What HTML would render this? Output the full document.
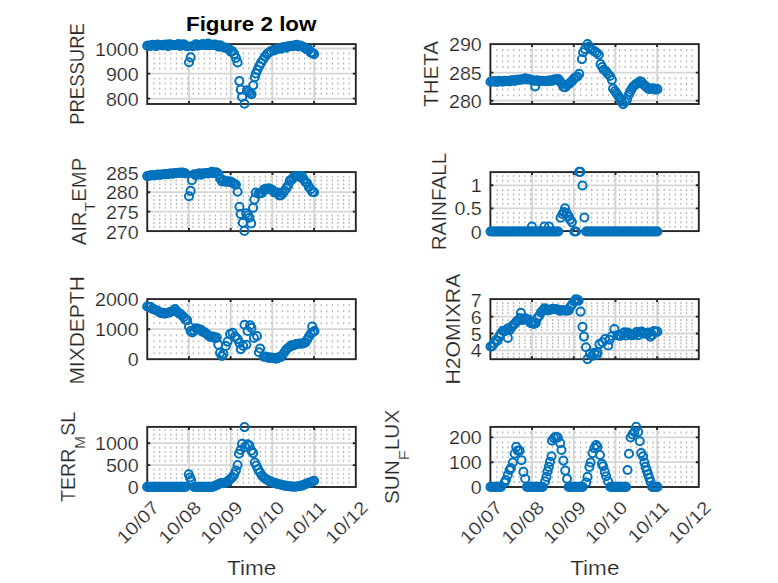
<!DOCTYPE html>
<html lang="en"><head><meta charset="utf-8"><title>Figure 2 low</title>
<style>html,body{margin:0;padding:0;background:#fff}body{width:778px;height:583px;overflow:hidden}svg{display:block}</style>
</head><body>
<svg width="778" height="583" viewBox="0 0 778 583" font-family='"Liberation Sans", sans-serif' fill="#262626" stroke="#fff" stroke-width="0.2" paint-order="fill stroke"><rect width="778" height="583" fill="#fff"/><g><rect x="147.25" y="44.1" width="208.55" height="59.90" fill="#fff"/><path d="M154.1 52.5v2M154.1 57.5v2M154.1 62.6v2M154.1 67.6v2M154.1 77.6v2M154.1 82.6v2M154.1 87.7v2M154.1 92.7v2M159.7 52.5v2M159.7 57.5v2M159.7 62.6v2M159.7 67.6v2M159.7 77.6v2M159.7 82.6v2M159.7 87.7v2M159.7 92.7v2M165.2 52.5v2M165.2 57.5v2M165.2 62.6v2M165.2 67.6v2M165.2 77.6v2M165.2 82.6v2M165.2 87.7v2M165.2 92.7v2M170.8 52.5v2M170.8 57.5v2M170.8 62.6v2M170.8 67.6v2M170.8 77.6v2M170.8 82.6v2M170.8 87.7v2M170.8 92.7v2M176.4 52.5v2M176.4 57.5v2M176.4 62.6v2M176.4 67.6v2M176.4 77.6v2M176.4 82.6v2M176.4 87.7v2M176.4 92.7v2M182.0 52.5v2M182.0 57.5v2M182.0 62.6v2M182.0 67.6v2M182.0 77.6v2M182.0 82.6v2M182.0 87.7v2M182.0 92.7v2M187.5 52.5v2M187.5 57.5v2M187.5 62.6v2M187.5 67.6v2M187.5 77.6v2M187.5 82.6v2M187.5 87.7v2M187.5 92.7v2M193.1 52.5v2M193.1 57.5v2M193.1 62.6v2M193.1 67.6v2M193.1 77.6v2M193.1 82.6v2M193.1 87.7v2M193.1 92.7v2M198.7 52.5v2M198.7 57.5v2M198.7 62.6v2M198.7 67.6v2M198.7 77.6v2M198.7 82.6v2M198.7 87.7v2M198.7 92.7v2M204.3 52.5v2M204.3 57.5v2M204.3 62.6v2M204.3 67.6v2M204.3 77.6v2M204.3 82.6v2M204.3 87.7v2M204.3 92.7v2M209.8 52.5v2M209.8 57.5v2M209.8 62.6v2M209.8 67.6v2M209.8 77.6v2M209.8 82.6v2M209.8 87.7v2M209.8 92.7v2M215.4 52.5v2M215.4 57.5v2M215.4 62.6v2M215.4 67.6v2M215.4 77.6v2M215.4 82.6v2M215.4 87.7v2M215.4 92.7v2M221.0 52.5v2M221.0 57.5v2M221.0 62.6v2M221.0 67.6v2M221.0 77.6v2M221.0 82.6v2M221.0 87.7v2M221.0 92.7v2M226.5 52.5v2M226.5 57.5v2M226.5 62.6v2M226.5 67.6v2M226.5 77.6v2M226.5 82.6v2M226.5 87.7v2M226.5 92.7v2M232.1 52.5v2M232.1 57.5v2M232.1 62.6v2M232.1 67.6v2M232.1 77.6v2M232.1 82.6v2M232.1 87.7v2M232.1 92.7v2M237.7 52.5v2M237.7 57.5v2M237.7 62.6v2M237.7 67.6v2M237.7 77.6v2M237.7 82.6v2M237.7 87.7v2M237.7 92.7v2M243.3 52.5v2M243.3 57.5v2M243.3 62.6v2M243.3 67.6v2M243.3 77.6v2M243.3 82.6v2M243.3 87.7v2M243.3 92.7v2M248.8 52.5v2M248.8 57.5v2M248.8 62.6v2M248.8 67.6v2M248.8 77.6v2M248.8 82.6v2M248.8 87.7v2M248.8 92.7v2M254.4 52.5v2M254.4 57.5v2M254.4 62.6v2M254.4 67.6v2M254.4 77.6v2M254.4 82.6v2M254.4 87.7v2M254.4 92.7v2M260.0 52.5v2M260.0 57.5v2M260.0 62.6v2M260.0 67.6v2M260.0 77.6v2M260.0 82.6v2M260.0 87.7v2M260.0 92.7v2M265.6 52.5v2M265.6 57.5v2M265.6 62.6v2M265.6 67.6v2M265.6 77.6v2M265.6 82.6v2M265.6 87.7v2M265.6 92.7v2M271.1 52.5v2M271.1 57.5v2M271.1 62.6v2M271.1 67.6v2M271.1 77.6v2M271.1 82.6v2M271.1 87.7v2M271.1 92.7v2M276.7 52.5v2M276.7 57.5v2M276.7 62.6v2M276.7 67.6v2M276.7 77.6v2M276.7 82.6v2M276.7 87.7v2M276.7 92.7v2M282.3 52.5v2M282.3 57.5v2M282.3 62.6v2M282.3 67.6v2M282.3 77.6v2M282.3 82.6v2M282.3 87.7v2M282.3 92.7v2M287.9 52.5v2M287.9 57.5v2M287.9 62.6v2M287.9 67.6v2M287.9 77.6v2M287.9 82.6v2M287.9 87.7v2M287.9 92.7v2M293.4 52.5v2M293.4 57.5v2M293.4 62.6v2M293.4 67.6v2M293.4 77.6v2M293.4 82.6v2M293.4 87.7v2M293.4 92.7v2M299.0 52.5v2M299.0 57.5v2M299.0 62.6v2M299.0 67.6v2M299.0 77.6v2M299.0 82.6v2M299.0 87.7v2M299.0 92.7v2M304.6 52.5v2M304.6 57.5v2M304.6 62.6v2M304.6 67.6v2M304.6 77.6v2M304.6 82.6v2M304.6 87.7v2M304.6 92.7v2M310.1 52.5v2M310.1 57.5v2M310.1 62.6v2M310.1 67.6v2M310.1 77.6v2M310.1 82.6v2M310.1 87.7v2M310.1 92.7v2M315.7 52.5v2M315.7 57.5v2M315.7 62.6v2M315.7 67.6v2M315.7 77.6v2M315.7 82.6v2M315.7 87.7v2M315.7 92.7v2M321.3 52.5v2M321.3 57.5v2M321.3 62.6v2M321.3 67.6v2M321.3 77.6v2M321.3 82.6v2M321.3 87.7v2M321.3 92.7v2M326.9 52.5v2M326.9 57.5v2M326.9 62.6v2M326.9 67.6v2M326.9 77.6v2M326.9 82.6v2M326.9 87.7v2M326.9 92.7v2M332.4 52.5v2M332.4 57.5v2M332.4 62.6v2M332.4 67.6v2M332.4 77.6v2M332.4 82.6v2M332.4 87.7v2M332.4 92.7v2M338.0 52.5v2M338.0 57.5v2M338.0 62.6v2M338.0 67.6v2M338.0 77.6v2M338.0 82.6v2M338.0 87.7v2M338.0 92.7v2M343.6 52.5v2M343.6 57.5v2M343.6 62.6v2M343.6 67.6v2M343.6 77.6v2M343.6 82.6v2M343.6 87.7v2M343.6 92.7v2M349.2 52.5v2M349.2 57.5v2M349.2 62.6v2M349.2 67.6v2M349.2 77.6v2M349.2 82.6v2M349.2 87.7v2M349.2 92.7v2" stroke="#b4b4b4" stroke-width="1.2" fill="none"/><path d="M188.96 44.1V104.0M230.67 44.1V104.0M272.38 44.1V104.0M314.09 44.1V104.0M147.25 48.50H355.8M147.25 73.60H355.8M147.25 98.60H355.8" stroke="#d5d5d5" stroke-width="1.8" fill="none"/><rect x="147.25" y="44.1" width="208.55" height="59.90" fill="none" stroke="#262626" stroke-width="1.9"/><path d="M188.96 104.0v-3.0M188.96 44.1v3.0M230.67 104.0v-3.0M230.67 44.1v3.0M272.38 104.0v-3.0M272.38 44.1v3.0M314.09 104.0v-3.0M314.09 44.1v3.0M147.25 48.50h3.0M355.8 48.50h-3.0M147.25 73.60h3.0M355.8 73.60h-3.0M147.25 98.60h3.0M355.8 98.60h-3.0" stroke="#262626" stroke-width="1.9" fill="none"/><g fill="none" stroke="#0072bd" stroke-width="2.0"><circle cx="147.2" cy="45.8" r="4.05"/><circle cx="149.0" cy="45.5" r="4.05"/><circle cx="150.7" cy="46.0" r="4.05"/><circle cx="152.5" cy="44.8" r="4.05"/><circle cx="154.2" cy="45.3" r="4.05"/><circle cx="155.9" cy="46.3" r="4.05"/><circle cx="157.7" cy="44.5" r="4.05"/><circle cx="159.4" cy="45.3" r="4.05"/><circle cx="161.2" cy="45.2" r="4.05"/><circle cx="162.9" cy="45.5" r="4.05"/><circle cx="164.6" cy="44.8" r="4.05"/><circle cx="166.4" cy="44.5" r="4.05"/><circle cx="168.1" cy="46.1" r="4.05"/><circle cx="169.8" cy="44.3" r="4.05"/><circle cx="171.6" cy="44.7" r="4.05"/><circle cx="173.3" cy="45.1" r="4.05"/><circle cx="175.1" cy="45.0" r="4.05"/><circle cx="176.8" cy="44.8" r="4.05"/><circle cx="178.5" cy="44.1" r="4.05"/><circle cx="180.3" cy="45.9" r="4.05"/><circle cx="182.0" cy="44.7" r="4.05"/><circle cx="183.8" cy="44.4" r="4.05"/><circle cx="185.5" cy="45.7" r="4.05"/><circle cx="187.2" cy="46.2" r="4.05"/><circle cx="192.4" cy="46.3" r="4.05"/><circle cx="194.2" cy="45.6" r="4.05"/><circle cx="195.9" cy="44.4" r="4.05"/><circle cx="197.7" cy="45.6" r="4.05"/><circle cx="199.4" cy="44.8" r="4.05"/><circle cx="201.1" cy="45.0" r="4.05"/><circle cx="202.9" cy="44.1" r="4.05"/><circle cx="204.6" cy="45.1" r="4.05"/><circle cx="206.4" cy="45.3" r="4.05"/><circle cx="208.1" cy="43.6" r="4.05"/><circle cx="209.8" cy="45.1" r="4.05"/><circle cx="211.6" cy="44.7" r="4.05"/><circle cx="213.3" cy="44.9" r="4.05"/><circle cx="215.0" cy="44.6" r="4.05"/><circle cx="216.8" cy="45.3" r="4.05"/><circle cx="218.5" cy="46.6" r="4.05"/><circle cx="220.3" cy="45.2" r="4.05"/><circle cx="222.0" cy="46.8" r="4.05"/><circle cx="223.7" cy="47.5" r="4.05"/><circle cx="225.5" cy="47.7" r="4.05"/><circle cx="227.2" cy="48.3" r="4.05"/><circle cx="229.0" cy="49.1" r="4.05"/><circle cx="230.7" cy="51.6" r="4.05"/><circle cx="232.4" cy="51.3" r="4.05"/><circle cx="234.2" cy="53.9" r="4.05"/><circle cx="235.9" cy="57.9" r="4.05"/><circle cx="237.6" cy="62.4" r="4.05"/><circle cx="189.0" cy="62.3" r="4.05"/><circle cx="190.7" cy="57.4" r="4.05"/><circle cx="239.3" cy="81.1" r="4.05"/><circle cx="240.7" cy="89.6" r="4.05"/><circle cx="242.1" cy="97.0" r="4.05"/><circle cx="244.5" cy="103.8" r="4.05"/><circle cx="246.9" cy="90.2" r="4.05"/><circle cx="248.6" cy="91.6" r="4.05"/><circle cx="250.1" cy="93.2" r="4.05"/><circle cx="251.6" cy="94.3" r="4.05"/><circle cx="253.3" cy="85.2" r="4.05"/><circle cx="254.8" cy="77.2" r="4.05"/><circle cx="255.9" cy="73.5" r="4.05"/><circle cx="257.5" cy="69.8" r="4.05"/><circle cx="259.4" cy="66.0" r="4.05"/><circle cx="261.0" cy="62.9" r="4.05"/><circle cx="263.0" cy="59.8" r="4.05"/><circle cx="265.0" cy="56.6" r="4.05"/><circle cx="267.0" cy="54.1" r="4.05"/><circle cx="269.0" cy="52.5" r="4.05"/><circle cx="271.0" cy="51.0" r="4.05"/><circle cx="274.1" cy="50.4" r="4.05"/><circle cx="275.9" cy="49.2" r="4.05"/><circle cx="277.6" cy="48.9" r="4.05"/><circle cx="279.4" cy="48.2" r="4.05"/><circle cx="281.1" cy="48.8" r="4.05"/><circle cx="282.8" cy="47.2" r="4.05"/><circle cx="284.6" cy="47.1" r="4.05"/><circle cx="286.3" cy="47.7" r="4.05"/><circle cx="288.1" cy="46.3" r="4.05"/><circle cx="289.8" cy="46.2" r="4.05"/><circle cx="291.5" cy="45.7" r="4.05"/><circle cx="293.3" cy="46.3" r="4.05"/><circle cx="295.0" cy="45.2" r="4.05"/><circle cx="296.7" cy="44.9" r="4.05"/><circle cx="298.5" cy="46.5" r="4.05"/><circle cx="300.2" cy="45.6" r="4.05"/><circle cx="302.0" cy="46.5" r="4.05"/><circle cx="303.7" cy="47.1" r="4.05"/><circle cx="305.4" cy="48.4" r="4.05"/><circle cx="307.2" cy="49.4" r="4.05"/><circle cx="308.9" cy="49.6" r="4.05"/><circle cx="310.7" cy="52.4" r="4.05"/><circle cx="312.4" cy="53.0" r="4.05"/><circle cx="314.1" cy="54.1" r="4.05"/></g><text transform="translate(138.7,55.5) scale(1.08,1)" font-size="18.2" text-anchor="end">1000</text><text transform="translate(138.7,80.6) scale(1.08,1)" font-size="18.2" text-anchor="end">900</text><text transform="translate(138.7,105.6) scale(1.08,1)" font-size="18.2" text-anchor="end">800</text><text transform="translate(83.5,74.0) rotate(-90) scale(0.947,1)" font-size="19.5" text-anchor="middle">PRESSURE</text></g><g><rect x="490.4" y="44.1" width="208.40" height="59.90" fill="#fff"/><path d="M497.0 49.0v2M497.0 54.7v2M497.0 60.3v2M497.0 66.0v2M497.0 77.2v2M497.0 82.9v2M497.0 88.5v2M497.0 94.2v2M502.6 49.0v2M502.6 54.7v2M502.6 60.3v2M502.6 66.0v2M502.6 77.2v2M502.6 82.9v2M502.6 88.5v2M502.6 94.2v2M508.1 49.0v2M508.1 54.7v2M508.1 60.3v2M508.1 66.0v2M508.1 77.2v2M508.1 82.9v2M508.1 88.5v2M508.1 94.2v2M513.7 49.0v2M513.7 54.7v2M513.7 60.3v2M513.7 66.0v2M513.7 77.2v2M513.7 82.9v2M513.7 88.5v2M513.7 94.2v2M519.3 49.0v2M519.3 54.7v2M519.3 60.3v2M519.3 66.0v2M519.3 77.2v2M519.3 82.9v2M519.3 88.5v2M519.3 94.2v2M524.9 49.0v2M524.9 54.7v2M524.9 60.3v2M524.9 66.0v2M524.9 77.2v2M524.9 82.9v2M524.9 88.5v2M524.9 94.2v2M530.4 49.0v2M530.4 54.7v2M530.4 60.3v2M530.4 66.0v2M530.4 77.2v2M530.4 82.9v2M530.4 88.5v2M530.4 94.2v2M536.0 49.0v2M536.0 54.7v2M536.0 60.3v2M536.0 66.0v2M536.0 77.2v2M536.0 82.9v2M536.0 88.5v2M536.0 94.2v2M541.6 49.0v2M541.6 54.7v2M541.6 60.3v2M541.6 66.0v2M541.6 77.2v2M541.6 82.9v2M541.6 88.5v2M541.6 94.2v2M547.2 49.0v2M547.2 54.7v2M547.2 60.3v2M547.2 66.0v2M547.2 77.2v2M547.2 82.9v2M547.2 88.5v2M547.2 94.2v2M552.7 49.0v2M552.7 54.7v2M552.7 60.3v2M552.7 66.0v2M552.7 77.2v2M552.7 82.9v2M552.7 88.5v2M552.7 94.2v2M558.3 49.0v2M558.3 54.7v2M558.3 60.3v2M558.3 66.0v2M558.3 77.2v2M558.3 82.9v2M558.3 88.5v2M558.3 94.2v2M563.9 49.0v2M563.9 54.7v2M563.9 60.3v2M563.9 66.0v2M563.9 77.2v2M563.9 82.9v2M563.9 88.5v2M563.9 94.2v2M569.4 49.0v2M569.4 54.7v2M569.4 60.3v2M569.4 66.0v2M569.4 77.2v2M569.4 82.9v2M569.4 88.5v2M569.4 94.2v2M575.0 49.0v2M575.0 54.7v2M575.0 60.3v2M575.0 66.0v2M575.0 77.2v2M575.0 82.9v2M575.0 88.5v2M575.0 94.2v2M580.6 49.0v2M580.6 54.7v2M580.6 60.3v2M580.6 66.0v2M580.6 77.2v2M580.6 82.9v2M580.6 88.5v2M580.6 94.2v2M586.2 49.0v2M586.2 54.7v2M586.2 60.3v2M586.2 66.0v2M586.2 77.2v2M586.2 82.9v2M586.2 88.5v2M586.2 94.2v2M591.7 49.0v2M591.7 54.7v2M591.7 60.3v2M591.7 66.0v2M591.7 77.2v2M591.7 82.9v2M591.7 88.5v2M591.7 94.2v2M597.3 49.0v2M597.3 54.7v2M597.3 60.3v2M597.3 66.0v2M597.3 77.2v2M597.3 82.9v2M597.3 88.5v2M597.3 94.2v2M602.9 49.0v2M602.9 54.7v2M602.9 60.3v2M602.9 66.0v2M602.9 77.2v2M602.9 82.9v2M602.9 88.5v2M602.9 94.2v2M608.5 49.0v2M608.5 54.7v2M608.5 60.3v2M608.5 66.0v2M608.5 77.2v2M608.5 82.9v2M608.5 88.5v2M608.5 94.2v2M614.0 49.0v2M614.0 54.7v2M614.0 60.3v2M614.0 66.0v2M614.0 77.2v2M614.0 82.9v2M614.0 88.5v2M614.0 94.2v2M619.6 49.0v2M619.6 54.7v2M619.6 60.3v2M619.6 66.0v2M619.6 77.2v2M619.6 82.9v2M619.6 88.5v2M619.6 94.2v2M625.2 49.0v2M625.2 54.7v2M625.2 60.3v2M625.2 66.0v2M625.2 77.2v2M625.2 82.9v2M625.2 88.5v2M625.2 94.2v2M630.8 49.0v2M630.8 54.7v2M630.8 60.3v2M630.8 66.0v2M630.8 77.2v2M630.8 82.9v2M630.8 88.5v2M630.8 94.2v2M636.3 49.0v2M636.3 54.7v2M636.3 60.3v2M636.3 66.0v2M636.3 77.2v2M636.3 82.9v2M636.3 88.5v2M636.3 94.2v2M641.9 49.0v2M641.9 54.7v2M641.9 60.3v2M641.9 66.0v2M641.9 77.2v2M641.9 82.9v2M641.9 88.5v2M641.9 94.2v2M647.5 49.0v2M647.5 54.7v2M647.5 60.3v2M647.5 66.0v2M647.5 77.2v2M647.5 82.9v2M647.5 88.5v2M647.5 94.2v2M653.0 49.0v2M653.0 54.7v2M653.0 60.3v2M653.0 66.0v2M653.0 77.2v2M653.0 82.9v2M653.0 88.5v2M653.0 94.2v2M658.6 49.0v2M658.6 54.7v2M658.6 60.3v2M658.6 66.0v2M658.6 77.2v2M658.6 82.9v2M658.6 88.5v2M658.6 94.2v2M664.2 49.0v2M664.2 54.7v2M664.2 60.3v2M664.2 66.0v2M664.2 77.2v2M664.2 82.9v2M664.2 88.5v2M664.2 94.2v2M669.8 49.0v2M669.8 54.7v2M669.8 60.3v2M669.8 66.0v2M669.8 77.2v2M669.8 82.9v2M669.8 88.5v2M669.8 94.2v2M675.3 49.0v2M675.3 54.7v2M675.3 60.3v2M675.3 66.0v2M675.3 77.2v2M675.3 82.9v2M675.3 88.5v2M675.3 94.2v2M680.9 49.0v2M680.9 54.7v2M680.9 60.3v2M680.9 66.0v2M680.9 77.2v2M680.9 82.9v2M680.9 88.5v2M680.9 94.2v2M686.5 49.0v2M686.5 54.7v2M686.5 60.3v2M686.5 66.0v2M686.5 77.2v2M686.5 82.9v2M686.5 88.5v2M686.5 94.2v2M692.1 49.0v2M692.1 54.7v2M692.1 60.3v2M692.1 66.0v2M692.1 77.2v2M692.1 82.9v2M692.1 88.5v2M692.1 94.2v2" stroke="#b4b4b4" stroke-width="1.2" fill="none"/><path d="M532.08 44.1V104.0M573.76 44.1V104.0M615.44 44.1V104.0M657.12 44.1V104.0M490.4 72.60H698.8M490.4 100.70H698.8" stroke="#d5d5d5" stroke-width="1.8" fill="none"/><rect x="490.4" y="44.1" width="208.40" height="59.90" fill="none" stroke="#262626" stroke-width="1.9"/><path d="M532.08 104.0v-3.0M532.08 44.1v3.0M573.76 104.0v-3.0M573.76 44.1v3.0M615.44 104.0v-3.0M615.44 44.1v3.0M657.12 104.0v-3.0M657.12 44.1v3.0M490.4 72.60h3.0M698.8 72.60h-3.0M490.4 100.70h3.0M698.8 100.70h-3.0" stroke="#262626" stroke-width="1.9" fill="none"/><g fill="none" stroke="#0072bd" stroke-width="2.0"><circle cx="490.5" cy="81.8" r="4.05"/><circle cx="492.2" cy="81.4" r="4.05"/><circle cx="494.0" cy="81.4" r="4.05"/><circle cx="495.7" cy="81.4" r="4.05"/><circle cx="497.5" cy="81.9" r="4.05"/><circle cx="499.2" cy="80.7" r="4.05"/><circle cx="500.9" cy="81.3" r="4.05"/><circle cx="502.7" cy="81.6" r="4.05"/><circle cx="504.4" cy="80.9" r="4.05"/><circle cx="506.1" cy="81.1" r="4.05"/><circle cx="507.9" cy="80.9" r="4.05"/><circle cx="509.6" cy="81.5" r="4.05"/><circle cx="511.4" cy="80.3" r="4.05"/><circle cx="513.1" cy="80.3" r="4.05"/><circle cx="514.8" cy="80.9" r="4.05"/><circle cx="516.6" cy="79.9" r="4.05"/><circle cx="518.3" cy="79.9" r="4.05"/><circle cx="520.1" cy="79.5" r="4.05"/><circle cx="521.8" cy="79.8" r="4.05"/><circle cx="523.5" cy="79.0" r="4.05"/><circle cx="525.3" cy="78.3" r="4.05"/><circle cx="527.0" cy="79.4" r="4.05"/><circle cx="528.7" cy="79.1" r="4.05"/><circle cx="530.5" cy="79.7" r="4.05"/><circle cx="532.2" cy="80.2" r="4.05"/><circle cx="534.0" cy="80.8" r="4.05"/><circle cx="535.7" cy="80.8" r="4.05"/><circle cx="537.4" cy="80.2" r="4.05"/><circle cx="539.2" cy="81.5" r="4.05"/><circle cx="540.9" cy="81.0" r="4.05"/><circle cx="542.6" cy="80.7" r="4.05"/><circle cx="544.4" cy="81.0" r="4.05"/><circle cx="546.1" cy="81.1" r="4.05"/><circle cx="547.9" cy="81.3" r="4.05"/><circle cx="549.6" cy="80.3" r="4.05"/><circle cx="551.3" cy="81.0" r="4.05"/><circle cx="553.1" cy="80.5" r="4.05"/><circle cx="554.8" cy="79.4" r="4.05"/><circle cx="556.6" cy="79.6" r="4.05"/><circle cx="558.3" cy="79.1" r="4.05"/><circle cx="560.0" cy="81.4" r="4.05"/><circle cx="561.8" cy="83.8" r="4.05"/><circle cx="563.5" cy="86.9" r="4.05"/><circle cx="565.2" cy="87.1" r="4.05"/><circle cx="567.0" cy="85.0" r="4.05"/><circle cx="568.7" cy="84.1" r="4.05"/><circle cx="570.5" cy="82.4" r="4.05"/><circle cx="572.2" cy="81.0" r="4.05"/><circle cx="573.9" cy="78.6" r="4.05"/><circle cx="575.7" cy="77.2" r="4.05"/><circle cx="577.4" cy="76.5" r="4.05"/><circle cx="579.2" cy="73.9" r="4.05"/><circle cx="535.2" cy="86.5" r="4.05"/><circle cx="581.9" cy="59.1" r="4.05"/><circle cx="583.1" cy="52.2" r="4.05"/><circle cx="585.0" cy="49.1" r="4.05"/><circle cx="587.5" cy="44.1" r="4.05"/><circle cx="589.0" cy="46.5" r="4.05"/><circle cx="590.6" cy="49.1" r="4.05"/><circle cx="592.8" cy="50.2" r="4.05"/><circle cx="595.0" cy="51.6" r="4.05"/><circle cx="596.9" cy="53.0" r="4.05"/><circle cx="598.8" cy="54.8" r="4.05"/><circle cx="600.6" cy="64.1" r="4.05"/><circle cx="602.2" cy="67.0" r="4.05"/><circle cx="603.8" cy="69.8" r="4.05"/><circle cx="606.2" cy="71.6" r="4.05"/><circle cx="608.0" cy="74.0" r="4.05"/><circle cx="610.0" cy="76.0" r="4.05"/><circle cx="611.9" cy="79.8" r="4.05"/><circle cx="613.1" cy="88.5" r="4.05"/><circle cx="615.0" cy="91.0" r="4.05"/><circle cx="616.3" cy="93.0" r="4.05"/><circle cx="617.5" cy="94.8" r="4.05"/><circle cx="619.0" cy="96.7" r="4.05"/><circle cx="620.0" cy="98.5" r="4.05"/><circle cx="621.5" cy="101.5" r="4.05"/><circle cx="623.1" cy="104.1" r="4.05"/><circle cx="625.0" cy="102.0" r="4.05"/><circle cx="626.9" cy="99.8" r="4.05"/><circle cx="628.8" cy="94.8" r="4.05"/><circle cx="630.0" cy="92.0" r="4.05"/><circle cx="631.2" cy="89.8" r="4.05"/><circle cx="633.0" cy="86.8" r="4.05"/><circle cx="634.8" cy="85.1" r="4.05"/><circle cx="636.5" cy="83.8" r="4.05"/><circle cx="638.3" cy="82.9" r="4.05"/><circle cx="640.0" cy="81.3" r="4.05"/><circle cx="641.7" cy="82.1" r="4.05"/><circle cx="643.5" cy="84.5" r="4.05"/><circle cx="645.2" cy="85.8" r="4.05"/><circle cx="647.0" cy="87.6" r="4.05"/><circle cx="648.7" cy="89.0" r="4.05"/><circle cx="650.4" cy="89.0" r="4.05"/><circle cx="652.2" cy="88.4" r="4.05"/><circle cx="653.9" cy="88.5" r="4.05"/><circle cx="655.6" cy="89.6" r="4.05"/><circle cx="657.4" cy="89.1" r="4.05"/></g><text transform="translate(481.8,51.4) scale(1.08,1)" font-size="18.2" text-anchor="end">290</text><text transform="translate(481.8,79.6) scale(1.08,1)" font-size="18.2" text-anchor="end">285</text><text transform="translate(481.8,107.7) scale(1.08,1)" font-size="18.2" text-anchor="end">280</text><text transform="translate(437.8,74.0) rotate(-90) scale(1.055,1)" font-size="19.5" text-anchor="middle">THETA</text></g><g><rect x="147.25" y="172.1" width="208.55" height="59.00" fill="#fff"/><path d="M154.1 175.8v2M154.1 179.6v2M154.1 183.5v2M154.1 187.3v2M154.1 195.1v2M154.1 198.9v2M154.1 202.8v2M154.1 206.6v2M154.1 214.4v2M154.1 218.2v2M154.1 222.1v2M154.1 225.9v2M159.7 175.8v2M159.7 179.6v2M159.7 183.5v2M159.7 187.3v2M159.7 195.1v2M159.7 198.9v2M159.7 202.8v2M159.7 206.6v2M159.7 214.4v2M159.7 218.2v2M159.7 222.1v2M159.7 225.9v2M165.2 175.8v2M165.2 179.6v2M165.2 183.5v2M165.2 187.3v2M165.2 195.1v2M165.2 198.9v2M165.2 202.8v2M165.2 206.6v2M165.2 214.4v2M165.2 218.2v2M165.2 222.1v2M165.2 225.9v2M170.8 175.8v2M170.8 179.6v2M170.8 183.5v2M170.8 187.3v2M170.8 195.1v2M170.8 198.9v2M170.8 202.8v2M170.8 206.6v2M170.8 214.4v2M170.8 218.2v2M170.8 222.1v2M170.8 225.9v2M176.4 175.8v2M176.4 179.6v2M176.4 183.5v2M176.4 187.3v2M176.4 195.1v2M176.4 198.9v2M176.4 202.8v2M176.4 206.6v2M176.4 214.4v2M176.4 218.2v2M176.4 222.1v2M176.4 225.9v2M182.0 175.8v2M182.0 179.6v2M182.0 183.5v2M182.0 187.3v2M182.0 195.1v2M182.0 198.9v2M182.0 202.8v2M182.0 206.6v2M182.0 214.4v2M182.0 218.2v2M182.0 222.1v2M182.0 225.9v2M187.5 175.8v2M187.5 179.6v2M187.5 183.5v2M187.5 187.3v2M187.5 195.1v2M187.5 198.9v2M187.5 202.8v2M187.5 206.6v2M187.5 214.4v2M187.5 218.2v2M187.5 222.1v2M187.5 225.9v2M193.1 175.8v2M193.1 179.6v2M193.1 183.5v2M193.1 187.3v2M193.1 195.1v2M193.1 198.9v2M193.1 202.8v2M193.1 206.6v2M193.1 214.4v2M193.1 218.2v2M193.1 222.1v2M193.1 225.9v2M198.7 175.8v2M198.7 179.6v2M198.7 183.5v2M198.7 187.3v2M198.7 195.1v2M198.7 198.9v2M198.7 202.8v2M198.7 206.6v2M198.7 214.4v2M198.7 218.2v2M198.7 222.1v2M198.7 225.9v2M204.3 175.8v2M204.3 179.6v2M204.3 183.5v2M204.3 187.3v2M204.3 195.1v2M204.3 198.9v2M204.3 202.8v2M204.3 206.6v2M204.3 214.4v2M204.3 218.2v2M204.3 222.1v2M204.3 225.9v2M209.8 175.8v2M209.8 179.6v2M209.8 183.5v2M209.8 187.3v2M209.8 195.1v2M209.8 198.9v2M209.8 202.8v2M209.8 206.6v2M209.8 214.4v2M209.8 218.2v2M209.8 222.1v2M209.8 225.9v2M215.4 175.8v2M215.4 179.6v2M215.4 183.5v2M215.4 187.3v2M215.4 195.1v2M215.4 198.9v2M215.4 202.8v2M215.4 206.6v2M215.4 214.4v2M215.4 218.2v2M215.4 222.1v2M215.4 225.9v2M221.0 175.8v2M221.0 179.6v2M221.0 183.5v2M221.0 187.3v2M221.0 195.1v2M221.0 198.9v2M221.0 202.8v2M221.0 206.6v2M221.0 214.4v2M221.0 218.2v2M221.0 222.1v2M221.0 225.9v2M226.5 175.8v2M226.5 179.6v2M226.5 183.5v2M226.5 187.3v2M226.5 195.1v2M226.5 198.9v2M226.5 202.8v2M226.5 206.6v2M226.5 214.4v2M226.5 218.2v2M226.5 222.1v2M226.5 225.9v2M232.1 175.8v2M232.1 179.6v2M232.1 183.5v2M232.1 187.3v2M232.1 195.1v2M232.1 198.9v2M232.1 202.8v2M232.1 206.6v2M232.1 214.4v2M232.1 218.2v2M232.1 222.1v2M232.1 225.9v2M237.7 175.8v2M237.7 179.6v2M237.7 183.5v2M237.7 187.3v2M237.7 195.1v2M237.7 198.9v2M237.7 202.8v2M237.7 206.6v2M237.7 214.4v2M237.7 218.2v2M237.7 222.1v2M237.7 225.9v2M243.3 175.8v2M243.3 179.6v2M243.3 183.5v2M243.3 187.3v2M243.3 195.1v2M243.3 198.9v2M243.3 202.8v2M243.3 206.6v2M243.3 214.4v2M243.3 218.2v2M243.3 222.1v2M243.3 225.9v2M248.8 175.8v2M248.8 179.6v2M248.8 183.5v2M248.8 187.3v2M248.8 195.1v2M248.8 198.9v2M248.8 202.8v2M248.8 206.6v2M248.8 214.4v2M248.8 218.2v2M248.8 222.1v2M248.8 225.9v2M254.4 175.8v2M254.4 179.6v2M254.4 183.5v2M254.4 187.3v2M254.4 195.1v2M254.4 198.9v2M254.4 202.8v2M254.4 206.6v2M254.4 214.4v2M254.4 218.2v2M254.4 222.1v2M254.4 225.9v2M260.0 175.8v2M260.0 179.6v2M260.0 183.5v2M260.0 187.3v2M260.0 195.1v2M260.0 198.9v2M260.0 202.8v2M260.0 206.6v2M260.0 214.4v2M260.0 218.2v2M260.0 222.1v2M260.0 225.9v2M265.6 175.8v2M265.6 179.6v2M265.6 183.5v2M265.6 187.3v2M265.6 195.1v2M265.6 198.9v2M265.6 202.8v2M265.6 206.6v2M265.6 214.4v2M265.6 218.2v2M265.6 222.1v2M265.6 225.9v2M271.1 175.8v2M271.1 179.6v2M271.1 183.5v2M271.1 187.3v2M271.1 195.1v2M271.1 198.9v2M271.1 202.8v2M271.1 206.6v2M271.1 214.4v2M271.1 218.2v2M271.1 222.1v2M271.1 225.9v2M276.7 175.8v2M276.7 179.6v2M276.7 183.5v2M276.7 187.3v2M276.7 195.1v2M276.7 198.9v2M276.7 202.8v2M276.7 206.6v2M276.7 214.4v2M276.7 218.2v2M276.7 222.1v2M276.7 225.9v2M282.3 175.8v2M282.3 179.6v2M282.3 183.5v2M282.3 187.3v2M282.3 195.1v2M282.3 198.9v2M282.3 202.8v2M282.3 206.6v2M282.3 214.4v2M282.3 218.2v2M282.3 222.1v2M282.3 225.9v2M287.9 175.8v2M287.9 179.6v2M287.9 183.5v2M287.9 187.3v2M287.9 195.1v2M287.9 198.9v2M287.9 202.8v2M287.9 206.6v2M287.9 214.4v2M287.9 218.2v2M287.9 222.1v2M287.9 225.9v2M293.4 175.8v2M293.4 179.6v2M293.4 183.5v2M293.4 187.3v2M293.4 195.1v2M293.4 198.9v2M293.4 202.8v2M293.4 206.6v2M293.4 214.4v2M293.4 218.2v2M293.4 222.1v2M293.4 225.9v2M299.0 175.8v2M299.0 179.6v2M299.0 183.5v2M299.0 187.3v2M299.0 195.1v2M299.0 198.9v2M299.0 202.8v2M299.0 206.6v2M299.0 214.4v2M299.0 218.2v2M299.0 222.1v2M299.0 225.9v2M304.6 175.8v2M304.6 179.6v2M304.6 183.5v2M304.6 187.3v2M304.6 195.1v2M304.6 198.9v2M304.6 202.8v2M304.6 206.6v2M304.6 214.4v2M304.6 218.2v2M304.6 222.1v2M304.6 225.9v2M310.1 175.8v2M310.1 179.6v2M310.1 183.5v2M310.1 187.3v2M310.1 195.1v2M310.1 198.9v2M310.1 202.8v2M310.1 206.6v2M310.1 214.4v2M310.1 218.2v2M310.1 222.1v2M310.1 225.9v2M315.7 175.8v2M315.7 179.6v2M315.7 183.5v2M315.7 187.3v2M315.7 195.1v2M315.7 198.9v2M315.7 202.8v2M315.7 206.6v2M315.7 214.4v2M315.7 218.2v2M315.7 222.1v2M315.7 225.9v2M321.3 175.8v2M321.3 179.6v2M321.3 183.5v2M321.3 187.3v2M321.3 195.1v2M321.3 198.9v2M321.3 202.8v2M321.3 206.6v2M321.3 214.4v2M321.3 218.2v2M321.3 222.1v2M321.3 225.9v2M326.9 175.8v2M326.9 179.6v2M326.9 183.5v2M326.9 187.3v2M326.9 195.1v2M326.9 198.9v2M326.9 202.8v2M326.9 206.6v2M326.9 214.4v2M326.9 218.2v2M326.9 222.1v2M326.9 225.9v2M332.4 175.8v2M332.4 179.6v2M332.4 183.5v2M332.4 187.3v2M332.4 195.1v2M332.4 198.9v2M332.4 202.8v2M332.4 206.6v2M332.4 214.4v2M332.4 218.2v2M332.4 222.1v2M332.4 225.9v2M338.0 175.8v2M338.0 179.6v2M338.0 183.5v2M338.0 187.3v2M338.0 195.1v2M338.0 198.9v2M338.0 202.8v2M338.0 206.6v2M338.0 214.4v2M338.0 218.2v2M338.0 222.1v2M338.0 225.9v2M343.6 175.8v2M343.6 179.6v2M343.6 183.5v2M343.6 187.3v2M343.6 195.1v2M343.6 198.9v2M343.6 202.8v2M343.6 206.6v2M343.6 214.4v2M343.6 218.2v2M343.6 222.1v2M343.6 225.9v2M349.2 175.8v2M349.2 179.6v2M349.2 183.5v2M349.2 187.3v2M349.2 195.1v2M349.2 198.9v2M349.2 202.8v2M349.2 206.6v2M349.2 214.4v2M349.2 218.2v2M349.2 222.1v2M349.2 225.9v2" stroke="#b4b4b4" stroke-width="1.2" fill="none"/><path d="M188.96 172.1V231.1M230.67 172.1V231.1M272.38 172.1V231.1M314.09 172.1V231.1M147.25 192.20H355.8M147.25 211.60H355.8" stroke="#d5d5d5" stroke-width="1.8" fill="none"/><rect x="147.25" y="172.1" width="208.55" height="59.00" fill="none" stroke="#262626" stroke-width="1.9"/><path d="M188.96 231.1v-3.0M188.96 172.1v3.0M230.67 231.1v-3.0M230.67 172.1v3.0M272.38 231.1v-3.0M272.38 172.1v3.0M314.09 231.1v-3.0M314.09 172.1v3.0M147.25 192.20h3.0M355.8 192.20h-3.0M147.25 211.60h3.0M355.8 211.60h-3.0" stroke="#262626" stroke-width="1.9" fill="none"/><g fill="none" stroke="#0072bd" stroke-width="2.0"><circle cx="147.2" cy="176.1" r="4.05"/><circle cx="149.0" cy="175.8" r="4.05"/><circle cx="150.7" cy="175.4" r="4.05"/><circle cx="152.5" cy="175.3" r="4.05"/><circle cx="154.2" cy="175.2" r="4.05"/><circle cx="155.9" cy="175.3" r="4.05"/><circle cx="157.7" cy="174.5" r="4.05"/><circle cx="159.4" cy="174.8" r="4.05"/><circle cx="161.2" cy="174.8" r="4.05"/><circle cx="162.9" cy="174.2" r="4.05"/><circle cx="164.6" cy="174.3" r="4.05"/><circle cx="166.4" cy="174.1" r="4.05"/><circle cx="168.1" cy="174.2" r="4.05"/><circle cx="169.8" cy="173.5" r="4.05"/><circle cx="171.6" cy="173.5" r="4.05"/><circle cx="173.3" cy="173.7" r="4.05"/><circle cx="175.1" cy="173.0" r="4.05"/><circle cx="176.8" cy="173.1" r="4.05"/><circle cx="178.5" cy="172.8" r="4.05"/><circle cx="180.3" cy="172.9" r="4.05"/><circle cx="182.0" cy="172.6" r="4.05"/><circle cx="183.8" cy="172.7" r="4.05"/><circle cx="185.5" cy="173.5" r="4.05"/><circle cx="189.0" cy="196.2" r="4.05"/><circle cx="190.6" cy="190.9" r="4.05"/><circle cx="191.9" cy="180.2" r="4.05"/><circle cx="194.2" cy="174.3" r="4.05"/><circle cx="195.9" cy="175.1" r="4.05"/><circle cx="197.7" cy="174.1" r="4.05"/><circle cx="199.4" cy="173.4" r="4.05"/><circle cx="201.1" cy="174.6" r="4.05"/><circle cx="202.9" cy="173.5" r="4.05"/><circle cx="204.6" cy="173.4" r="4.05"/><circle cx="206.4" cy="173.0" r="4.05"/><circle cx="208.1" cy="173.5" r="4.05"/><circle cx="209.8" cy="173.1" r="4.05"/><circle cx="211.6" cy="171.9" r="4.05"/><circle cx="213.3" cy="173.2" r="4.05"/><circle cx="215.0" cy="172.2" r="4.05"/><circle cx="216.8" cy="172.5" r="4.05"/><circle cx="218.5" cy="174.4" r="4.05"/><circle cx="220.3" cy="178.7" r="4.05"/><circle cx="222.0" cy="181.4" r="4.05"/><circle cx="223.7" cy="180.2" r="4.05"/><circle cx="225.5" cy="181.7" r="4.05"/><circle cx="227.2" cy="181.6" r="4.05"/><circle cx="229.0" cy="181.2" r="4.05"/><circle cx="230.7" cy="182.1" r="4.05"/><circle cx="232.4" cy="182.6" r="4.05"/><circle cx="234.2" cy="183.7" r="4.05"/><circle cx="235.9" cy="184.7" r="4.05"/><circle cx="237.6" cy="191.8" r="4.05"/><circle cx="239.4" cy="206.8" r="4.05"/><circle cx="240.6" cy="214.0" r="4.05"/><circle cx="242.8" cy="222.8" r="4.05"/><circle cx="244.4" cy="230.9" r="4.05"/><circle cx="246.2" cy="213.4" r="4.05"/><circle cx="248.1" cy="215.2" r="4.05"/><circle cx="249.4" cy="217.8" r="4.05"/><circle cx="251.2" cy="223.4" r="4.05"/><circle cx="253.1" cy="207.8" r="4.05"/><circle cx="254.4" cy="199.6" r="4.05"/><circle cx="255.8" cy="192.6" r="4.05"/><circle cx="258.5" cy="193.6" r="4.05"/><circle cx="260.2" cy="193.3" r="4.05"/><circle cx="262.0" cy="193.0" r="4.05"/><circle cx="263.7" cy="189.8" r="4.05"/><circle cx="265.5" cy="188.7" r="4.05"/><circle cx="267.2" cy="189.1" r="4.05"/><circle cx="268.9" cy="188.2" r="4.05"/><circle cx="270.7" cy="189.3" r="4.05"/><circle cx="272.4" cy="190.0" r="4.05"/><circle cx="274.1" cy="192.3" r="4.05"/><circle cx="275.9" cy="192.5" r="4.05"/><circle cx="277.6" cy="192.6" r="4.05"/><circle cx="279.4" cy="195.5" r="4.05"/><circle cx="281.1" cy="195.2" r="4.05"/><circle cx="282.8" cy="193.1" r="4.05"/><circle cx="284.6" cy="190.6" r="4.05"/><circle cx="286.3" cy="188.4" r="4.05"/><circle cx="288.1" cy="185.4" r="4.05"/><circle cx="289.8" cy="180.6" r="4.05"/><circle cx="291.5" cy="179.9" r="4.05"/><circle cx="293.3" cy="177.6" r="4.05"/><circle cx="295.0" cy="176.2" r="4.05"/><circle cx="296.7" cy="176.3" r="4.05"/><circle cx="298.5" cy="176.2" r="4.05"/><circle cx="300.2" cy="177.1" r="4.05"/><circle cx="302.0" cy="176.1" r="4.05"/><circle cx="303.7" cy="179.2" r="4.05"/><circle cx="305.4" cy="181.9" r="4.05"/><circle cx="307.2" cy="183.4" r="4.05"/><circle cx="308.9" cy="186.9" r="4.05"/><circle cx="310.7" cy="189.2" r="4.05"/><circle cx="312.4" cy="191.9" r="4.05"/><circle cx="314.1" cy="192.3" r="4.05"/></g><text transform="translate(138.7,179.9) scale(1.08,1)" font-size="18.2" text-anchor="end">285</text><text transform="translate(138.7,199.2) scale(1.08,1)" font-size="18.2" text-anchor="end">280</text><text transform="translate(138.7,218.6) scale(1.08,1)" font-size="18.2" text-anchor="end">275</text><text transform="translate(138.7,238.9) scale(1.08,1)" font-size="18.2" text-anchor="end">270</text><text transform="translate(85.7,201.6) rotate(-90) scale(1.041,1)" font-size="19.5" text-anchor="middle">AIR<tspan dy="9.6" font-size="15.3">T</tspan><tspan dy="-9.6">EMP</tspan></text></g><g><rect x="490.4" y="172.1" width="208.40" height="59.00" fill="#fff"/><path d="M497.0 175.1v2M497.0 179.7v2M497.0 188.9v2M497.0 193.5v2M497.0 198.2v2M497.0 202.8v2M497.0 212.0v2M497.0 216.6v2M497.0 221.3v2M497.0 225.9v2M502.6 175.1v2M502.6 179.7v2M502.6 188.9v2M502.6 193.5v2M502.6 198.2v2M502.6 202.8v2M502.6 212.0v2M502.6 216.6v2M502.6 221.3v2M502.6 225.9v2M508.1 175.1v2M508.1 179.7v2M508.1 188.9v2M508.1 193.5v2M508.1 198.2v2M508.1 202.8v2M508.1 212.0v2M508.1 216.6v2M508.1 221.3v2M508.1 225.9v2M513.7 175.1v2M513.7 179.7v2M513.7 188.9v2M513.7 193.5v2M513.7 198.2v2M513.7 202.8v2M513.7 212.0v2M513.7 216.6v2M513.7 221.3v2M513.7 225.9v2M519.3 175.1v2M519.3 179.7v2M519.3 188.9v2M519.3 193.5v2M519.3 198.2v2M519.3 202.8v2M519.3 212.0v2M519.3 216.6v2M519.3 221.3v2M519.3 225.9v2M524.9 175.1v2M524.9 179.7v2M524.9 188.9v2M524.9 193.5v2M524.9 198.2v2M524.9 202.8v2M524.9 212.0v2M524.9 216.6v2M524.9 221.3v2M524.9 225.9v2M530.4 175.1v2M530.4 179.7v2M530.4 188.9v2M530.4 193.5v2M530.4 198.2v2M530.4 202.8v2M530.4 212.0v2M530.4 216.6v2M530.4 221.3v2M530.4 225.9v2M536.0 175.1v2M536.0 179.7v2M536.0 188.9v2M536.0 193.5v2M536.0 198.2v2M536.0 202.8v2M536.0 212.0v2M536.0 216.6v2M536.0 221.3v2M536.0 225.9v2M541.6 175.1v2M541.6 179.7v2M541.6 188.9v2M541.6 193.5v2M541.6 198.2v2M541.6 202.8v2M541.6 212.0v2M541.6 216.6v2M541.6 221.3v2M541.6 225.9v2M547.2 175.1v2M547.2 179.7v2M547.2 188.9v2M547.2 193.5v2M547.2 198.2v2M547.2 202.8v2M547.2 212.0v2M547.2 216.6v2M547.2 221.3v2M547.2 225.9v2M552.7 175.1v2M552.7 179.7v2M552.7 188.9v2M552.7 193.5v2M552.7 198.2v2M552.7 202.8v2M552.7 212.0v2M552.7 216.6v2M552.7 221.3v2M552.7 225.9v2M558.3 175.1v2M558.3 179.7v2M558.3 188.9v2M558.3 193.5v2M558.3 198.2v2M558.3 202.8v2M558.3 212.0v2M558.3 216.6v2M558.3 221.3v2M558.3 225.9v2M563.9 175.1v2M563.9 179.7v2M563.9 188.9v2M563.9 193.5v2M563.9 198.2v2M563.9 202.8v2M563.9 212.0v2M563.9 216.6v2M563.9 221.3v2M563.9 225.9v2M569.4 175.1v2M569.4 179.7v2M569.4 188.9v2M569.4 193.5v2M569.4 198.2v2M569.4 202.8v2M569.4 212.0v2M569.4 216.6v2M569.4 221.3v2M569.4 225.9v2M575.0 175.1v2M575.0 179.7v2M575.0 188.9v2M575.0 193.5v2M575.0 198.2v2M575.0 202.8v2M575.0 212.0v2M575.0 216.6v2M575.0 221.3v2M575.0 225.9v2M580.6 175.1v2M580.6 179.7v2M580.6 188.9v2M580.6 193.5v2M580.6 198.2v2M580.6 202.8v2M580.6 212.0v2M580.6 216.6v2M580.6 221.3v2M580.6 225.9v2M586.2 175.1v2M586.2 179.7v2M586.2 188.9v2M586.2 193.5v2M586.2 198.2v2M586.2 202.8v2M586.2 212.0v2M586.2 216.6v2M586.2 221.3v2M586.2 225.9v2M591.7 175.1v2M591.7 179.7v2M591.7 188.9v2M591.7 193.5v2M591.7 198.2v2M591.7 202.8v2M591.7 212.0v2M591.7 216.6v2M591.7 221.3v2M591.7 225.9v2M597.3 175.1v2M597.3 179.7v2M597.3 188.9v2M597.3 193.5v2M597.3 198.2v2M597.3 202.8v2M597.3 212.0v2M597.3 216.6v2M597.3 221.3v2M597.3 225.9v2M602.9 175.1v2M602.9 179.7v2M602.9 188.9v2M602.9 193.5v2M602.9 198.2v2M602.9 202.8v2M602.9 212.0v2M602.9 216.6v2M602.9 221.3v2M602.9 225.9v2M608.5 175.1v2M608.5 179.7v2M608.5 188.9v2M608.5 193.5v2M608.5 198.2v2M608.5 202.8v2M608.5 212.0v2M608.5 216.6v2M608.5 221.3v2M608.5 225.9v2M614.0 175.1v2M614.0 179.7v2M614.0 188.9v2M614.0 193.5v2M614.0 198.2v2M614.0 202.8v2M614.0 212.0v2M614.0 216.6v2M614.0 221.3v2M614.0 225.9v2M619.6 175.1v2M619.6 179.7v2M619.6 188.9v2M619.6 193.5v2M619.6 198.2v2M619.6 202.8v2M619.6 212.0v2M619.6 216.6v2M619.6 221.3v2M619.6 225.9v2M625.2 175.1v2M625.2 179.7v2M625.2 188.9v2M625.2 193.5v2M625.2 198.2v2M625.2 202.8v2M625.2 212.0v2M625.2 216.6v2M625.2 221.3v2M625.2 225.9v2M630.8 175.1v2M630.8 179.7v2M630.8 188.9v2M630.8 193.5v2M630.8 198.2v2M630.8 202.8v2M630.8 212.0v2M630.8 216.6v2M630.8 221.3v2M630.8 225.9v2M636.3 175.1v2M636.3 179.7v2M636.3 188.9v2M636.3 193.5v2M636.3 198.2v2M636.3 202.8v2M636.3 212.0v2M636.3 216.6v2M636.3 221.3v2M636.3 225.9v2M641.9 175.1v2M641.9 179.7v2M641.9 188.9v2M641.9 193.5v2M641.9 198.2v2M641.9 202.8v2M641.9 212.0v2M641.9 216.6v2M641.9 221.3v2M641.9 225.9v2M647.5 175.1v2M647.5 179.7v2M647.5 188.9v2M647.5 193.5v2M647.5 198.2v2M647.5 202.8v2M647.5 212.0v2M647.5 216.6v2M647.5 221.3v2M647.5 225.9v2M653.0 175.1v2M653.0 179.7v2M653.0 188.9v2M653.0 193.5v2M653.0 198.2v2M653.0 202.8v2M653.0 212.0v2M653.0 216.6v2M653.0 221.3v2M653.0 225.9v2M658.6 175.1v2M658.6 179.7v2M658.6 188.9v2M658.6 193.5v2M658.6 198.2v2M658.6 202.8v2M658.6 212.0v2M658.6 216.6v2M658.6 221.3v2M658.6 225.9v2M664.2 175.1v2M664.2 179.7v2M664.2 188.9v2M664.2 193.5v2M664.2 198.2v2M664.2 202.8v2M664.2 212.0v2M664.2 216.6v2M664.2 221.3v2M664.2 225.9v2M669.8 175.1v2M669.8 179.7v2M669.8 188.9v2M669.8 193.5v2M669.8 198.2v2M669.8 202.8v2M669.8 212.0v2M669.8 216.6v2M669.8 221.3v2M669.8 225.9v2M675.3 175.1v2M675.3 179.7v2M675.3 188.9v2M675.3 193.5v2M675.3 198.2v2M675.3 202.8v2M675.3 212.0v2M675.3 216.6v2M675.3 221.3v2M675.3 225.9v2M680.9 175.1v2M680.9 179.7v2M680.9 188.9v2M680.9 193.5v2M680.9 198.2v2M680.9 202.8v2M680.9 212.0v2M680.9 216.6v2M680.9 221.3v2M680.9 225.9v2M686.5 175.1v2M686.5 179.7v2M686.5 188.9v2M686.5 193.5v2M686.5 198.2v2M686.5 202.8v2M686.5 212.0v2M686.5 216.6v2M686.5 221.3v2M686.5 225.9v2M692.1 175.1v2M692.1 179.7v2M692.1 188.9v2M692.1 193.5v2M692.1 198.2v2M692.1 202.8v2M692.1 212.0v2M692.1 216.6v2M692.1 221.3v2M692.1 225.9v2" stroke="#b4b4b4" stroke-width="1.2" fill="none"/><path d="M532.08 172.1V231.1M573.76 172.1V231.1M615.44 172.1V231.1M657.12 172.1V231.1M490.4 185.30H698.8M490.4 208.40H698.8" stroke="#d5d5d5" stroke-width="1.8" fill="none"/><rect x="490.4" y="172.1" width="208.40" height="59.00" fill="none" stroke="#262626" stroke-width="1.9"/><path d="M532.08 231.1v-3.0M532.08 172.1v3.0M573.76 231.1v-3.0M573.76 172.1v3.0M615.44 231.1v-3.0M615.44 172.1v3.0M657.12 231.1v-3.0M657.12 172.1v3.0M490.4 185.30h3.0M698.8 185.30h-3.0M490.4 208.40h3.0M698.8 208.40h-3.0" stroke="#262626" stroke-width="1.9" fill="none"/><g fill="none" stroke="#0072bd" stroke-width="2.0"><circle cx="490.5" cy="231.5" r="4.05"/><circle cx="492.2" cy="231.5" r="4.05"/><circle cx="494.0" cy="231.5" r="4.05"/><circle cx="495.7" cy="231.5" r="4.05"/><circle cx="497.5" cy="231.5" r="4.05"/><circle cx="499.2" cy="231.5" r="4.05"/><circle cx="500.9" cy="231.5" r="4.05"/><circle cx="502.7" cy="231.5" r="4.05"/><circle cx="504.4" cy="231.5" r="4.05"/><circle cx="506.1" cy="231.5" r="4.05"/><circle cx="507.9" cy="231.5" r="4.05"/><circle cx="509.6" cy="231.5" r="4.05"/><circle cx="511.4" cy="231.5" r="4.05"/><circle cx="513.1" cy="231.5" r="4.05"/><circle cx="514.8" cy="231.5" r="4.05"/><circle cx="516.6" cy="231.5" r="4.05"/><circle cx="518.3" cy="231.5" r="4.05"/><circle cx="520.1" cy="231.5" r="4.05"/><circle cx="521.8" cy="231.5" r="4.05"/><circle cx="523.5" cy="231.5" r="4.05"/><circle cx="525.3" cy="231.5" r="4.05"/><circle cx="527.0" cy="231.5" r="4.05"/><circle cx="528.7" cy="231.5" r="4.05"/><circle cx="530.5" cy="231.5" r="4.05"/><circle cx="532.2" cy="231.5" r="4.05"/><circle cx="534.0" cy="231.5" r="4.05"/><circle cx="535.7" cy="231.5" r="4.05"/><circle cx="537.4" cy="231.5" r="4.05"/><circle cx="539.2" cy="231.5" r="4.05"/><circle cx="540.9" cy="231.5" r="4.05"/><circle cx="542.6" cy="231.5" r="4.05"/><circle cx="544.4" cy="231.5" r="4.05"/><circle cx="546.1" cy="231.5" r="4.05"/><circle cx="547.9" cy="231.5" r="4.05"/><circle cx="549.6" cy="231.5" r="4.05"/><circle cx="551.3" cy="231.5" r="4.05"/><circle cx="553.1" cy="231.5" r="4.05"/><circle cx="554.8" cy="231.5" r="4.05"/><circle cx="556.6" cy="231.5" r="4.05"/><circle cx="558.3" cy="231.5" r="4.05"/><circle cx="586.1" cy="231.5" r="4.05"/><circle cx="587.8" cy="231.5" r="4.05"/><circle cx="589.6" cy="231.5" r="4.05"/><circle cx="591.3" cy="231.5" r="4.05"/><circle cx="593.1" cy="231.5" r="4.05"/><circle cx="594.8" cy="231.5" r="4.05"/><circle cx="596.5" cy="231.5" r="4.05"/><circle cx="598.3" cy="231.5" r="4.05"/><circle cx="600.0" cy="231.5" r="4.05"/><circle cx="601.8" cy="231.5" r="4.05"/><circle cx="603.5" cy="231.5" r="4.05"/><circle cx="605.2" cy="231.5" r="4.05"/><circle cx="607.0" cy="231.5" r="4.05"/><circle cx="608.7" cy="231.5" r="4.05"/><circle cx="610.4" cy="231.5" r="4.05"/><circle cx="612.2" cy="231.5" r="4.05"/><circle cx="613.9" cy="231.5" r="4.05"/><circle cx="615.7" cy="231.5" r="4.05"/><circle cx="617.4" cy="231.5" r="4.05"/><circle cx="619.1" cy="231.5" r="4.05"/><circle cx="620.9" cy="231.5" r="4.05"/><circle cx="622.6" cy="231.5" r="4.05"/><circle cx="624.4" cy="231.5" r="4.05"/><circle cx="626.1" cy="231.5" r="4.05"/><circle cx="627.8" cy="231.5" r="4.05"/><circle cx="629.6" cy="231.5" r="4.05"/><circle cx="631.3" cy="231.5" r="4.05"/><circle cx="633.0" cy="231.5" r="4.05"/><circle cx="634.8" cy="231.5" r="4.05"/><circle cx="636.5" cy="231.5" r="4.05"/><circle cx="638.3" cy="231.5" r="4.05"/><circle cx="640.0" cy="231.5" r="4.05"/><circle cx="641.7" cy="231.5" r="4.05"/><circle cx="643.5" cy="231.5" r="4.05"/><circle cx="645.2" cy="231.5" r="4.05"/><circle cx="647.0" cy="231.5" r="4.05"/><circle cx="648.7" cy="231.5" r="4.05"/><circle cx="650.4" cy="231.5" r="4.05"/><circle cx="652.2" cy="231.5" r="4.05"/><circle cx="653.9" cy="231.5" r="4.05"/><circle cx="655.6" cy="231.5" r="4.05"/><circle cx="657.4" cy="231.5" r="4.05"/><circle cx="531.9" cy="226.5" r="4.05"/><circle cx="544.4" cy="226.5" r="4.05"/><circle cx="549.0" cy="226.5" r="4.05"/><circle cx="560.6" cy="217.8" r="4.05"/><circle cx="562.5" cy="214.0" r="4.05"/><circle cx="563.8" cy="212.1" r="4.05"/><circle cx="565.0" cy="208.4" r="4.05"/><circle cx="566.9" cy="213.4" r="4.05"/><circle cx="568.8" cy="216.5" r="4.05"/><circle cx="570.0" cy="219.6" r="4.05"/><circle cx="571.9" cy="222.1" r="4.05"/><circle cx="574.3" cy="231.5" r="4.05"/><circle cx="576.0" cy="231.5" r="4.05"/><circle cx="579.2" cy="171.9" r="4.05"/><circle cx="580.3" cy="171.9" r="4.05"/><circle cx="582.5" cy="185.5" r="4.05"/><circle cx="584.4" cy="217.5" r="4.05"/></g><text transform="translate(481.8,192.3) scale(1.08,1)" font-size="18.2" text-anchor="end">1</text><text transform="translate(481.8,215.4) scale(1.08,1)" font-size="18.2" text-anchor="end">0.5</text><text transform="translate(481.8,238.5) scale(1.08,1)" font-size="18.2" text-anchor="end">0</text><text transform="translate(446.0,201.6) rotate(-90) scale(1.058,1)" font-size="19.5" text-anchor="middle">RAINFALL</text></g><g><rect x="147.25" y="299.1" width="208.55" height="60.10" fill="#fff"/><path d="M154.1 304.2v2M154.1 310.2v2M154.1 316.2v2M154.1 322.2v2M154.1 334.2v2M154.1 340.2v2M154.1 346.2v2M154.1 352.2v2M159.7 304.2v2M159.7 310.2v2M159.7 316.2v2M159.7 322.2v2M159.7 334.2v2M159.7 340.2v2M159.7 346.2v2M159.7 352.2v2M165.2 304.2v2M165.2 310.2v2M165.2 316.2v2M165.2 322.2v2M165.2 334.2v2M165.2 340.2v2M165.2 346.2v2M165.2 352.2v2M170.8 304.2v2M170.8 310.2v2M170.8 316.2v2M170.8 322.2v2M170.8 334.2v2M170.8 340.2v2M170.8 346.2v2M170.8 352.2v2M176.4 304.2v2M176.4 310.2v2M176.4 316.2v2M176.4 322.2v2M176.4 334.2v2M176.4 340.2v2M176.4 346.2v2M176.4 352.2v2M182.0 304.2v2M182.0 310.2v2M182.0 316.2v2M182.0 322.2v2M182.0 334.2v2M182.0 340.2v2M182.0 346.2v2M182.0 352.2v2M187.5 304.2v2M187.5 310.2v2M187.5 316.2v2M187.5 322.2v2M187.5 334.2v2M187.5 340.2v2M187.5 346.2v2M187.5 352.2v2M193.1 304.2v2M193.1 310.2v2M193.1 316.2v2M193.1 322.2v2M193.1 334.2v2M193.1 340.2v2M193.1 346.2v2M193.1 352.2v2M198.7 304.2v2M198.7 310.2v2M198.7 316.2v2M198.7 322.2v2M198.7 334.2v2M198.7 340.2v2M198.7 346.2v2M198.7 352.2v2M204.3 304.2v2M204.3 310.2v2M204.3 316.2v2M204.3 322.2v2M204.3 334.2v2M204.3 340.2v2M204.3 346.2v2M204.3 352.2v2M209.8 304.2v2M209.8 310.2v2M209.8 316.2v2M209.8 322.2v2M209.8 334.2v2M209.8 340.2v2M209.8 346.2v2M209.8 352.2v2M215.4 304.2v2M215.4 310.2v2M215.4 316.2v2M215.4 322.2v2M215.4 334.2v2M215.4 340.2v2M215.4 346.2v2M215.4 352.2v2M221.0 304.2v2M221.0 310.2v2M221.0 316.2v2M221.0 322.2v2M221.0 334.2v2M221.0 340.2v2M221.0 346.2v2M221.0 352.2v2M226.5 304.2v2M226.5 310.2v2M226.5 316.2v2M226.5 322.2v2M226.5 334.2v2M226.5 340.2v2M226.5 346.2v2M226.5 352.2v2M232.1 304.2v2M232.1 310.2v2M232.1 316.2v2M232.1 322.2v2M232.1 334.2v2M232.1 340.2v2M232.1 346.2v2M232.1 352.2v2M237.7 304.2v2M237.7 310.2v2M237.7 316.2v2M237.7 322.2v2M237.7 334.2v2M237.7 340.2v2M237.7 346.2v2M237.7 352.2v2M243.3 304.2v2M243.3 310.2v2M243.3 316.2v2M243.3 322.2v2M243.3 334.2v2M243.3 340.2v2M243.3 346.2v2M243.3 352.2v2M248.8 304.2v2M248.8 310.2v2M248.8 316.2v2M248.8 322.2v2M248.8 334.2v2M248.8 340.2v2M248.8 346.2v2M248.8 352.2v2M254.4 304.2v2M254.4 310.2v2M254.4 316.2v2M254.4 322.2v2M254.4 334.2v2M254.4 340.2v2M254.4 346.2v2M254.4 352.2v2M260.0 304.2v2M260.0 310.2v2M260.0 316.2v2M260.0 322.2v2M260.0 334.2v2M260.0 340.2v2M260.0 346.2v2M260.0 352.2v2M265.6 304.2v2M265.6 310.2v2M265.6 316.2v2M265.6 322.2v2M265.6 334.2v2M265.6 340.2v2M265.6 346.2v2M265.6 352.2v2M271.1 304.2v2M271.1 310.2v2M271.1 316.2v2M271.1 322.2v2M271.1 334.2v2M271.1 340.2v2M271.1 346.2v2M271.1 352.2v2M276.7 304.2v2M276.7 310.2v2M276.7 316.2v2M276.7 322.2v2M276.7 334.2v2M276.7 340.2v2M276.7 346.2v2M276.7 352.2v2M282.3 304.2v2M282.3 310.2v2M282.3 316.2v2M282.3 322.2v2M282.3 334.2v2M282.3 340.2v2M282.3 346.2v2M282.3 352.2v2M287.9 304.2v2M287.9 310.2v2M287.9 316.2v2M287.9 322.2v2M287.9 334.2v2M287.9 340.2v2M287.9 346.2v2M287.9 352.2v2M293.4 304.2v2M293.4 310.2v2M293.4 316.2v2M293.4 322.2v2M293.4 334.2v2M293.4 340.2v2M293.4 346.2v2M293.4 352.2v2M299.0 304.2v2M299.0 310.2v2M299.0 316.2v2M299.0 322.2v2M299.0 334.2v2M299.0 340.2v2M299.0 346.2v2M299.0 352.2v2M304.6 304.2v2M304.6 310.2v2M304.6 316.2v2M304.6 322.2v2M304.6 334.2v2M304.6 340.2v2M304.6 346.2v2M304.6 352.2v2M310.1 304.2v2M310.1 310.2v2M310.1 316.2v2M310.1 322.2v2M310.1 334.2v2M310.1 340.2v2M310.1 346.2v2M310.1 352.2v2M315.7 304.2v2M315.7 310.2v2M315.7 316.2v2M315.7 322.2v2M315.7 334.2v2M315.7 340.2v2M315.7 346.2v2M315.7 352.2v2M321.3 304.2v2M321.3 310.2v2M321.3 316.2v2M321.3 322.2v2M321.3 334.2v2M321.3 340.2v2M321.3 346.2v2M321.3 352.2v2M326.9 304.2v2M326.9 310.2v2M326.9 316.2v2M326.9 322.2v2M326.9 334.2v2M326.9 340.2v2M326.9 346.2v2M326.9 352.2v2M332.4 304.2v2M332.4 310.2v2M332.4 316.2v2M332.4 322.2v2M332.4 334.2v2M332.4 340.2v2M332.4 346.2v2M332.4 352.2v2M338.0 304.2v2M338.0 310.2v2M338.0 316.2v2M338.0 322.2v2M338.0 334.2v2M338.0 340.2v2M338.0 346.2v2M338.0 352.2v2M343.6 304.2v2M343.6 310.2v2M343.6 316.2v2M343.6 322.2v2M343.6 334.2v2M343.6 340.2v2M343.6 346.2v2M343.6 352.2v2M349.2 304.2v2M349.2 310.2v2M349.2 316.2v2M349.2 322.2v2M349.2 334.2v2M349.2 340.2v2M349.2 346.2v2M349.2 352.2v2" stroke="#b4b4b4" stroke-width="1.2" fill="none"/><path d="M188.96 299.1V359.2M230.67 299.1V359.2M272.38 299.1V359.2M314.09 299.1V359.2M147.25 329.20H355.8" stroke="#d5d5d5" stroke-width="1.8" fill="none"/><rect x="147.25" y="299.1" width="208.55" height="60.10" fill="none" stroke="#262626" stroke-width="1.9"/><path d="M188.96 359.2v-3.0M188.96 299.1v3.0M230.67 359.2v-3.0M230.67 299.1v3.0M272.38 359.2v-3.0M272.38 299.1v3.0M314.09 359.2v-3.0M314.09 299.1v3.0M147.25 329.20h3.0M355.8 329.20h-3.0" stroke="#262626" stroke-width="1.9" fill="none"/><g fill="none" stroke="#0072bd" stroke-width="2.0"><circle cx="147.2" cy="306.5" r="4.05"/><circle cx="149.0" cy="306.9" r="4.05"/><circle cx="150.7" cy="307.0" r="4.05"/><circle cx="152.5" cy="309.0" r="4.05"/><circle cx="154.2" cy="309.3" r="4.05"/><circle cx="155.9" cy="310.2" r="4.05"/><circle cx="157.7" cy="310.8" r="4.05"/><circle cx="159.4" cy="312.2" r="4.05"/><circle cx="161.2" cy="313.2" r="4.05"/><circle cx="162.9" cy="312.7" r="4.05"/><circle cx="164.6" cy="313.7" r="4.05"/><circle cx="166.4" cy="313.3" r="4.05"/><circle cx="168.1" cy="312.8" r="4.05"/><circle cx="169.8" cy="312.2" r="4.05"/><circle cx="171.6" cy="311.5" r="4.05"/><circle cx="173.3" cy="311.2" r="4.05"/><circle cx="175.1" cy="309.1" r="4.05"/><circle cx="176.8" cy="311.4" r="4.05"/><circle cx="178.5" cy="313.0" r="4.05"/><circle cx="180.3" cy="313.7" r="4.05"/><circle cx="182.0" cy="315.5" r="4.05"/><circle cx="183.8" cy="317.1" r="4.05"/><circle cx="185.5" cy="319.6" r="4.05"/><circle cx="187.2" cy="320.2" r="4.05"/><circle cx="189.0" cy="326.7" r="4.05"/><circle cx="190.7" cy="331.0" r="4.05"/><circle cx="192.4" cy="332.4" r="4.05"/><circle cx="194.2" cy="330.7" r="4.05"/><circle cx="195.9" cy="328.2" r="4.05"/><circle cx="197.7" cy="329.1" r="4.05"/><circle cx="199.4" cy="329.2" r="4.05"/><circle cx="201.1" cy="329.9" r="4.05"/><circle cx="202.9" cy="332.0" r="4.05"/><circle cx="204.6" cy="332.3" r="4.05"/><circle cx="206.4" cy="333.8" r="4.05"/><circle cx="208.1" cy="335.1" r="4.05"/><circle cx="209.8" cy="336.8" r="4.05"/><circle cx="211.6" cy="336.9" r="4.05"/><circle cx="213.3" cy="336.5" r="4.05"/><circle cx="215.0" cy="338.2" r="4.05"/><circle cx="216.8" cy="337.6" r="4.05"/><circle cx="218.3" cy="344.8" r="4.05"/><circle cx="220.0" cy="352.9" r="4.05"/><circle cx="221.9" cy="356.0" r="4.05"/><circle cx="223.5" cy="353.8" r="4.05"/><circle cx="225.8" cy="346.0" r="4.05"/><circle cx="227.6" cy="341.6" r="4.05"/><circle cx="230.1" cy="334.1" r="4.05"/><circle cx="232.6" cy="332.9" r="4.05"/><circle cx="235.1" cy="336.6" r="4.05"/><circle cx="237.6" cy="339.1" r="4.05"/><circle cx="239.5" cy="342.9" r="4.05"/><circle cx="240.8" cy="349.1" r="4.05"/><circle cx="243.2" cy="346.0" r="4.05"/><circle cx="246.4" cy="344.8" r="4.05"/><circle cx="244.5" cy="324.8" r="4.05"/><circle cx="247.6" cy="331.0" r="4.05"/><circle cx="250.1" cy="325.4" r="4.05"/><circle cx="251.4" cy="327.9" r="4.05"/><circle cx="253.9" cy="337.9" r="4.05"/><circle cx="257.0" cy="336.0" r="4.05"/><circle cx="260.1" cy="348.5" r="4.05"/><circle cx="258.9" cy="352.2" r="4.05"/><circle cx="263.7" cy="356.8" r="4.05"/><circle cx="265.5" cy="356.5" r="4.05"/><circle cx="267.2" cy="357.1" r="4.05"/><circle cx="268.9" cy="357.9" r="4.05"/><circle cx="270.7" cy="357.5" r="4.05"/><circle cx="272.4" cy="357.9" r="4.05"/><circle cx="274.1" cy="358.1" r="4.05"/><circle cx="275.9" cy="358.6" r="4.05"/><circle cx="277.6" cy="358.1" r="4.05"/><circle cx="279.4" cy="357.0" r="4.05"/><circle cx="281.1" cy="356.9" r="4.05"/><circle cx="282.8" cy="354.6" r="4.05"/><circle cx="284.6" cy="352.0" r="4.05"/><circle cx="286.3" cy="349.5" r="4.05"/><circle cx="288.1" cy="348.0" r="4.05"/><circle cx="289.8" cy="346.8" r="4.05"/><circle cx="291.5" cy="345.3" r="4.05"/><circle cx="293.3" cy="345.5" r="4.05"/><circle cx="295.0" cy="344.6" r="4.05"/><circle cx="296.7" cy="344.0" r="4.05"/><circle cx="298.5" cy="343.8" r="4.05"/><circle cx="300.2" cy="343.5" r="4.05"/><circle cx="302.0" cy="343.7" r="4.05"/><circle cx="303.7" cy="343.1" r="4.05"/><circle cx="305.4" cy="342.4" r="4.05"/><circle cx="307.2" cy="339.6" r="4.05"/><circle cx="308.9" cy="336.5" r="4.05"/><circle cx="310.7" cy="333.8" r="4.05"/><circle cx="312.2" cy="326.5" r="4.05"/><circle cx="313.0" cy="332.2" r="4.05"/><circle cx="314.5" cy="331.0" r="4.05"/></g><text transform="translate(138.7,306.2) scale(1.08,1)" font-size="18.2" text-anchor="end">2000</text><text transform="translate(138.7,336.2) scale(1.08,1)" font-size="18.2" text-anchor="end">1000</text><text transform="translate(138.7,366.2) scale(1.08,1)" font-size="18.2" text-anchor="end">0</text><text transform="translate(84.0,330.4) rotate(-90) scale(1.077,1)" font-size="19.5" text-anchor="middle">MIXDEPTH</text></g><g><rect x="490.4" y="299.1" width="208.40" height="60.10" fill="#fff"/><path d="M497.0 302.1v2M497.0 305.5v2M497.0 308.8v2M497.0 312.2v2M497.0 319.0v2M497.0 322.4v2M497.0 325.7v2M497.0 329.1v2M497.0 335.9v2M497.0 339.3v2M497.0 342.6v2M497.0 346.0v2M497.0 352.8v2M497.0 356.2v2M502.6 302.1v2M502.6 305.5v2M502.6 308.8v2M502.6 312.2v2M502.6 319.0v2M502.6 322.4v2M502.6 325.7v2M502.6 329.1v2M502.6 335.9v2M502.6 339.3v2M502.6 342.6v2M502.6 346.0v2M502.6 352.8v2M502.6 356.2v2M508.1 302.1v2M508.1 305.5v2M508.1 308.8v2M508.1 312.2v2M508.1 319.0v2M508.1 322.4v2M508.1 325.7v2M508.1 329.1v2M508.1 335.9v2M508.1 339.3v2M508.1 342.6v2M508.1 346.0v2M508.1 352.8v2M508.1 356.2v2M513.7 302.1v2M513.7 305.5v2M513.7 308.8v2M513.7 312.2v2M513.7 319.0v2M513.7 322.4v2M513.7 325.7v2M513.7 329.1v2M513.7 335.9v2M513.7 339.3v2M513.7 342.6v2M513.7 346.0v2M513.7 352.8v2M513.7 356.2v2M519.3 302.1v2M519.3 305.5v2M519.3 308.8v2M519.3 312.2v2M519.3 319.0v2M519.3 322.4v2M519.3 325.7v2M519.3 329.1v2M519.3 335.9v2M519.3 339.3v2M519.3 342.6v2M519.3 346.0v2M519.3 352.8v2M519.3 356.2v2M524.9 302.1v2M524.9 305.5v2M524.9 308.8v2M524.9 312.2v2M524.9 319.0v2M524.9 322.4v2M524.9 325.7v2M524.9 329.1v2M524.9 335.9v2M524.9 339.3v2M524.9 342.6v2M524.9 346.0v2M524.9 352.8v2M524.9 356.2v2M530.4 302.1v2M530.4 305.5v2M530.4 308.8v2M530.4 312.2v2M530.4 319.0v2M530.4 322.4v2M530.4 325.7v2M530.4 329.1v2M530.4 335.9v2M530.4 339.3v2M530.4 342.6v2M530.4 346.0v2M530.4 352.8v2M530.4 356.2v2M536.0 302.1v2M536.0 305.5v2M536.0 308.8v2M536.0 312.2v2M536.0 319.0v2M536.0 322.4v2M536.0 325.7v2M536.0 329.1v2M536.0 335.9v2M536.0 339.3v2M536.0 342.6v2M536.0 346.0v2M536.0 352.8v2M536.0 356.2v2M541.6 302.1v2M541.6 305.5v2M541.6 308.8v2M541.6 312.2v2M541.6 319.0v2M541.6 322.4v2M541.6 325.7v2M541.6 329.1v2M541.6 335.9v2M541.6 339.3v2M541.6 342.6v2M541.6 346.0v2M541.6 352.8v2M541.6 356.2v2M547.2 302.1v2M547.2 305.5v2M547.2 308.8v2M547.2 312.2v2M547.2 319.0v2M547.2 322.4v2M547.2 325.7v2M547.2 329.1v2M547.2 335.9v2M547.2 339.3v2M547.2 342.6v2M547.2 346.0v2M547.2 352.8v2M547.2 356.2v2M552.7 302.1v2M552.7 305.5v2M552.7 308.8v2M552.7 312.2v2M552.7 319.0v2M552.7 322.4v2M552.7 325.7v2M552.7 329.1v2M552.7 335.9v2M552.7 339.3v2M552.7 342.6v2M552.7 346.0v2M552.7 352.8v2M552.7 356.2v2M558.3 302.1v2M558.3 305.5v2M558.3 308.8v2M558.3 312.2v2M558.3 319.0v2M558.3 322.4v2M558.3 325.7v2M558.3 329.1v2M558.3 335.9v2M558.3 339.3v2M558.3 342.6v2M558.3 346.0v2M558.3 352.8v2M558.3 356.2v2M563.9 302.1v2M563.9 305.5v2M563.9 308.8v2M563.9 312.2v2M563.9 319.0v2M563.9 322.4v2M563.9 325.7v2M563.9 329.1v2M563.9 335.9v2M563.9 339.3v2M563.9 342.6v2M563.9 346.0v2M563.9 352.8v2M563.9 356.2v2M569.4 302.1v2M569.4 305.5v2M569.4 308.8v2M569.4 312.2v2M569.4 319.0v2M569.4 322.4v2M569.4 325.7v2M569.4 329.1v2M569.4 335.9v2M569.4 339.3v2M569.4 342.6v2M569.4 346.0v2M569.4 352.8v2M569.4 356.2v2M575.0 302.1v2M575.0 305.5v2M575.0 308.8v2M575.0 312.2v2M575.0 319.0v2M575.0 322.4v2M575.0 325.7v2M575.0 329.1v2M575.0 335.9v2M575.0 339.3v2M575.0 342.6v2M575.0 346.0v2M575.0 352.8v2M575.0 356.2v2M580.6 302.1v2M580.6 305.5v2M580.6 308.8v2M580.6 312.2v2M580.6 319.0v2M580.6 322.4v2M580.6 325.7v2M580.6 329.1v2M580.6 335.9v2M580.6 339.3v2M580.6 342.6v2M580.6 346.0v2M580.6 352.8v2M580.6 356.2v2M586.2 302.1v2M586.2 305.5v2M586.2 308.8v2M586.2 312.2v2M586.2 319.0v2M586.2 322.4v2M586.2 325.7v2M586.2 329.1v2M586.2 335.9v2M586.2 339.3v2M586.2 342.6v2M586.2 346.0v2M586.2 352.8v2M586.2 356.2v2M591.7 302.1v2M591.7 305.5v2M591.7 308.8v2M591.7 312.2v2M591.7 319.0v2M591.7 322.4v2M591.7 325.7v2M591.7 329.1v2M591.7 335.9v2M591.7 339.3v2M591.7 342.6v2M591.7 346.0v2M591.7 352.8v2M591.7 356.2v2M597.3 302.1v2M597.3 305.5v2M597.3 308.8v2M597.3 312.2v2M597.3 319.0v2M597.3 322.4v2M597.3 325.7v2M597.3 329.1v2M597.3 335.9v2M597.3 339.3v2M597.3 342.6v2M597.3 346.0v2M597.3 352.8v2M597.3 356.2v2M602.9 302.1v2M602.9 305.5v2M602.9 308.8v2M602.9 312.2v2M602.9 319.0v2M602.9 322.4v2M602.9 325.7v2M602.9 329.1v2M602.9 335.9v2M602.9 339.3v2M602.9 342.6v2M602.9 346.0v2M602.9 352.8v2M602.9 356.2v2M608.5 302.1v2M608.5 305.5v2M608.5 308.8v2M608.5 312.2v2M608.5 319.0v2M608.5 322.4v2M608.5 325.7v2M608.5 329.1v2M608.5 335.9v2M608.5 339.3v2M608.5 342.6v2M608.5 346.0v2M608.5 352.8v2M608.5 356.2v2M614.0 302.1v2M614.0 305.5v2M614.0 308.8v2M614.0 312.2v2M614.0 319.0v2M614.0 322.4v2M614.0 325.7v2M614.0 329.1v2M614.0 335.9v2M614.0 339.3v2M614.0 342.6v2M614.0 346.0v2M614.0 352.8v2M614.0 356.2v2M619.6 302.1v2M619.6 305.5v2M619.6 308.8v2M619.6 312.2v2M619.6 319.0v2M619.6 322.4v2M619.6 325.7v2M619.6 329.1v2M619.6 335.9v2M619.6 339.3v2M619.6 342.6v2M619.6 346.0v2M619.6 352.8v2M619.6 356.2v2M625.2 302.1v2M625.2 305.5v2M625.2 308.8v2M625.2 312.2v2M625.2 319.0v2M625.2 322.4v2M625.2 325.7v2M625.2 329.1v2M625.2 335.9v2M625.2 339.3v2M625.2 342.6v2M625.2 346.0v2M625.2 352.8v2M625.2 356.2v2M630.8 302.1v2M630.8 305.5v2M630.8 308.8v2M630.8 312.2v2M630.8 319.0v2M630.8 322.4v2M630.8 325.7v2M630.8 329.1v2M630.8 335.9v2M630.8 339.3v2M630.8 342.6v2M630.8 346.0v2M630.8 352.8v2M630.8 356.2v2M636.3 302.1v2M636.3 305.5v2M636.3 308.8v2M636.3 312.2v2M636.3 319.0v2M636.3 322.4v2M636.3 325.7v2M636.3 329.1v2M636.3 335.9v2M636.3 339.3v2M636.3 342.6v2M636.3 346.0v2M636.3 352.8v2M636.3 356.2v2M641.9 302.1v2M641.9 305.5v2M641.9 308.8v2M641.9 312.2v2M641.9 319.0v2M641.9 322.4v2M641.9 325.7v2M641.9 329.1v2M641.9 335.9v2M641.9 339.3v2M641.9 342.6v2M641.9 346.0v2M641.9 352.8v2M641.9 356.2v2M647.5 302.1v2M647.5 305.5v2M647.5 308.8v2M647.5 312.2v2M647.5 319.0v2M647.5 322.4v2M647.5 325.7v2M647.5 329.1v2M647.5 335.9v2M647.5 339.3v2M647.5 342.6v2M647.5 346.0v2M647.5 352.8v2M647.5 356.2v2M653.0 302.1v2M653.0 305.5v2M653.0 308.8v2M653.0 312.2v2M653.0 319.0v2M653.0 322.4v2M653.0 325.7v2M653.0 329.1v2M653.0 335.9v2M653.0 339.3v2M653.0 342.6v2M653.0 346.0v2M653.0 352.8v2M653.0 356.2v2M658.6 302.1v2M658.6 305.5v2M658.6 308.8v2M658.6 312.2v2M658.6 319.0v2M658.6 322.4v2M658.6 325.7v2M658.6 329.1v2M658.6 335.9v2M658.6 339.3v2M658.6 342.6v2M658.6 346.0v2M658.6 352.8v2M658.6 356.2v2M664.2 302.1v2M664.2 305.5v2M664.2 308.8v2M664.2 312.2v2M664.2 319.0v2M664.2 322.4v2M664.2 325.7v2M664.2 329.1v2M664.2 335.9v2M664.2 339.3v2M664.2 342.6v2M664.2 346.0v2M664.2 352.8v2M664.2 356.2v2M669.8 302.1v2M669.8 305.5v2M669.8 308.8v2M669.8 312.2v2M669.8 319.0v2M669.8 322.4v2M669.8 325.7v2M669.8 329.1v2M669.8 335.9v2M669.8 339.3v2M669.8 342.6v2M669.8 346.0v2M669.8 352.8v2M669.8 356.2v2M675.3 302.1v2M675.3 305.5v2M675.3 308.8v2M675.3 312.2v2M675.3 319.0v2M675.3 322.4v2M675.3 325.7v2M675.3 329.1v2M675.3 335.9v2M675.3 339.3v2M675.3 342.6v2M675.3 346.0v2M675.3 352.8v2M675.3 356.2v2M680.9 302.1v2M680.9 305.5v2M680.9 308.8v2M680.9 312.2v2M680.9 319.0v2M680.9 322.4v2M680.9 325.7v2M680.9 329.1v2M680.9 335.9v2M680.9 339.3v2M680.9 342.6v2M680.9 346.0v2M680.9 352.8v2M680.9 356.2v2M686.5 302.1v2M686.5 305.5v2M686.5 308.8v2M686.5 312.2v2M686.5 319.0v2M686.5 322.4v2M686.5 325.7v2M686.5 329.1v2M686.5 335.9v2M686.5 339.3v2M686.5 342.6v2M686.5 346.0v2M686.5 352.8v2M686.5 356.2v2M692.1 302.1v2M692.1 305.5v2M692.1 308.8v2M692.1 312.2v2M692.1 319.0v2M692.1 322.4v2M692.1 325.7v2M692.1 329.1v2M692.1 335.9v2M692.1 339.3v2M692.1 342.6v2M692.1 346.0v2M692.1 352.8v2M692.1 356.2v2" stroke="#b4b4b4" stroke-width="1.2" fill="none"/><path d="M532.08 299.1V359.2M573.76 299.1V359.2M615.44 299.1V359.2M657.12 299.1V359.2M490.4 316.60H698.8M490.4 333.50H698.8M490.4 350.40H698.8" stroke="#d5d5d5" stroke-width="1.8" fill="none"/><rect x="490.4" y="299.1" width="208.40" height="60.10" fill="none" stroke="#262626" stroke-width="1.9"/><path d="M532.08 359.2v-3.0M532.08 299.1v3.0M573.76 359.2v-3.0M573.76 299.1v3.0M615.44 359.2v-3.0M615.44 299.1v3.0M657.12 359.2v-3.0M657.12 299.1v3.0M490.4 316.60h3.0M698.8 316.60h-3.0M490.4 333.50h3.0M698.8 333.50h-3.0M490.4 350.40h3.0M698.8 350.40h-3.0" stroke="#262626" stroke-width="1.9" fill="none"/><g fill="none" stroke="#0072bd" stroke-width="2.0"><circle cx="490.5" cy="346.5" r="4.05"/><circle cx="492.2" cy="346.3" r="4.05"/><circle cx="494.0" cy="343.4" r="4.05"/><circle cx="495.7" cy="340.3" r="4.05"/><circle cx="497.5" cy="340.8" r="4.05"/><circle cx="499.2" cy="336.4" r="4.05"/><circle cx="500.9" cy="333.7" r="4.05"/><circle cx="502.7" cy="330.8" r="4.05"/><circle cx="504.4" cy="331.2" r="4.05"/><circle cx="506.1" cy="330.8" r="4.05"/><circle cx="507.9" cy="328.4" r="4.05"/><circle cx="509.6" cy="330.3" r="4.05"/><circle cx="511.4" cy="327.5" r="4.05"/><circle cx="513.1" cy="325.1" r="4.05"/><circle cx="514.8" cy="323.6" r="4.05"/><circle cx="516.6" cy="321.4" r="4.05"/><circle cx="518.3" cy="320.5" r="4.05"/><circle cx="520.1" cy="318.0" r="4.05"/><circle cx="521.8" cy="320.0" r="4.05"/><circle cx="523.5" cy="319.8" r="4.05"/><circle cx="525.3" cy="318.4" r="4.05"/><circle cx="527.0" cy="319.7" r="4.05"/><circle cx="528.7" cy="319.6" r="4.05"/><circle cx="530.5" cy="322.9" r="4.05"/><circle cx="532.2" cy="323.4" r="4.05"/><circle cx="534.0" cy="324.0" r="4.05"/><circle cx="535.7" cy="323.1" r="4.05"/><circle cx="537.4" cy="318.1" r="4.05"/><circle cx="539.2" cy="315.8" r="4.05"/><circle cx="540.9" cy="312.5" r="4.05"/><circle cx="542.6" cy="310.6" r="4.05"/><circle cx="544.4" cy="308.4" r="4.05"/><circle cx="546.1" cy="309.1" r="4.05"/><circle cx="547.9" cy="310.5" r="4.05"/><circle cx="549.6" cy="309.8" r="4.05"/><circle cx="551.3" cy="309.5" r="4.05"/><circle cx="553.1" cy="308.9" r="4.05"/><circle cx="554.8" cy="309.0" r="4.05"/><circle cx="556.6" cy="309.4" r="4.05"/><circle cx="558.3" cy="309.7" r="4.05"/><circle cx="560.0" cy="311.0" r="4.05"/><circle cx="561.8" cy="310.2" r="4.05"/><circle cx="563.5" cy="310.2" r="4.05"/><circle cx="565.2" cy="310.6" r="4.05"/><circle cx="567.0" cy="310.5" r="4.05"/><circle cx="568.7" cy="310.5" r="4.05"/><circle cx="570.5" cy="306.6" r="4.05"/><circle cx="572.2" cy="304.3" r="4.05"/><circle cx="573.9" cy="301.5" r="4.05"/><circle cx="575.7" cy="299.4" r="4.05"/><circle cx="507.8" cy="337.9" r="4.05"/><circle cx="520.9" cy="312.9" r="4.05"/><circle cx="576.2" cy="300.6" r="4.05"/><circle cx="577.8" cy="299.9" r="4.05"/><circle cx="578.6" cy="300.8" r="4.05"/><circle cx="580.6" cy="311.6" r="4.05"/><circle cx="582.5" cy="326.9" r="4.05"/><circle cx="584.0" cy="336.6" r="4.05"/><circle cx="586.0" cy="347.2" r="4.05"/><circle cx="587.5" cy="359.1" r="4.05"/><circle cx="590.0" cy="353.5" r="4.05"/><circle cx="591.9" cy="356.0" r="4.05"/><circle cx="594.4" cy="352.9" r="4.05"/><circle cx="596.9" cy="354.8" r="4.05"/><circle cx="597.5" cy="352.2" r="4.05"/><circle cx="599.4" cy="344.1" r="4.05"/><circle cx="602.5" cy="342.2" r="4.05"/><circle cx="605.0" cy="339.1" r="4.05"/><circle cx="608.1" cy="345.4" r="4.05"/><circle cx="609.4" cy="339.8" r="4.05"/><circle cx="611.9" cy="336.0" r="4.05"/><circle cx="614.4" cy="329.1" r="4.05"/><circle cx="617.4" cy="335.2" r="4.05"/><circle cx="619.1" cy="335.8" r="4.05"/><circle cx="620.9" cy="335.8" r="4.05"/><circle cx="622.6" cy="333.5" r="4.05"/><circle cx="624.4" cy="332.2" r="4.05"/><circle cx="626.1" cy="335.5" r="4.05"/><circle cx="627.8" cy="332.6" r="4.05"/><circle cx="629.6" cy="333.9" r="4.05"/><circle cx="631.3" cy="335.1" r="4.05"/><circle cx="633.0" cy="335.2" r="4.05"/><circle cx="634.8" cy="334.3" r="4.05"/><circle cx="636.5" cy="332.1" r="4.05"/><circle cx="638.3" cy="335.1" r="4.05"/><circle cx="640.0" cy="332.0" r="4.05"/><circle cx="641.7" cy="331.6" r="4.05"/><circle cx="643.5" cy="333.6" r="4.05"/><circle cx="645.2" cy="333.0" r="4.05"/><circle cx="647.0" cy="333.9" r="4.05"/><circle cx="648.7" cy="332.6" r="4.05"/><circle cx="650.4" cy="336.6" r="4.05"/><circle cx="652.2" cy="334.9" r="4.05"/><circle cx="653.9" cy="331.1" r="4.05"/><circle cx="655.6" cy="332.0" r="4.05"/><circle cx="657.4" cy="331.6" r="4.05"/></g><text transform="translate(481.8,306.7) scale(1.08,1)" font-size="18.2" text-anchor="end">7</text><text transform="translate(481.8,323.6) scale(1.08,1)" font-size="18.2" text-anchor="end">6</text><text transform="translate(481.8,340.5) scale(1.08,1)" font-size="18.2" text-anchor="end">5</text><text transform="translate(481.8,357.4) scale(1.08,1)" font-size="18.2" text-anchor="end">4</text><text transform="translate(459.5,329.1) rotate(-90) scale(1.09,1)" font-size="19.5" text-anchor="middle">H2OMIXRA</text></g><g><rect x="147.25" y="426.9" width="208.55" height="60.10" fill="#fff"/><path d="M154.1 429.1v2M154.1 433.4v2M154.1 437.8v2M154.1 446.6v2M154.1 451.0v2M154.1 455.3v2M154.1 459.7v2M154.1 468.5v2M154.1 472.9v2M154.1 477.2v2M154.1 481.6v2M159.7 429.1v2M159.7 433.4v2M159.7 437.8v2M159.7 446.6v2M159.7 451.0v2M159.7 455.3v2M159.7 459.7v2M159.7 468.5v2M159.7 472.9v2M159.7 477.2v2M159.7 481.6v2M165.2 429.1v2M165.2 433.4v2M165.2 437.8v2M165.2 446.6v2M165.2 451.0v2M165.2 455.3v2M165.2 459.7v2M165.2 468.5v2M165.2 472.9v2M165.2 477.2v2M165.2 481.6v2M170.8 429.1v2M170.8 433.4v2M170.8 437.8v2M170.8 446.6v2M170.8 451.0v2M170.8 455.3v2M170.8 459.7v2M170.8 468.5v2M170.8 472.9v2M170.8 477.2v2M170.8 481.6v2M176.4 429.1v2M176.4 433.4v2M176.4 437.8v2M176.4 446.6v2M176.4 451.0v2M176.4 455.3v2M176.4 459.7v2M176.4 468.5v2M176.4 472.9v2M176.4 477.2v2M176.4 481.6v2M182.0 429.1v2M182.0 433.4v2M182.0 437.8v2M182.0 446.6v2M182.0 451.0v2M182.0 455.3v2M182.0 459.7v2M182.0 468.5v2M182.0 472.9v2M182.0 477.2v2M182.0 481.6v2M187.5 429.1v2M187.5 433.4v2M187.5 437.8v2M187.5 446.6v2M187.5 451.0v2M187.5 455.3v2M187.5 459.7v2M187.5 468.5v2M187.5 472.9v2M187.5 477.2v2M187.5 481.6v2M193.1 429.1v2M193.1 433.4v2M193.1 437.8v2M193.1 446.6v2M193.1 451.0v2M193.1 455.3v2M193.1 459.7v2M193.1 468.5v2M193.1 472.9v2M193.1 477.2v2M193.1 481.6v2M198.7 429.1v2M198.7 433.4v2M198.7 437.8v2M198.7 446.6v2M198.7 451.0v2M198.7 455.3v2M198.7 459.7v2M198.7 468.5v2M198.7 472.9v2M198.7 477.2v2M198.7 481.6v2M204.3 429.1v2M204.3 433.4v2M204.3 437.8v2M204.3 446.6v2M204.3 451.0v2M204.3 455.3v2M204.3 459.7v2M204.3 468.5v2M204.3 472.9v2M204.3 477.2v2M204.3 481.6v2M209.8 429.1v2M209.8 433.4v2M209.8 437.8v2M209.8 446.6v2M209.8 451.0v2M209.8 455.3v2M209.8 459.7v2M209.8 468.5v2M209.8 472.9v2M209.8 477.2v2M209.8 481.6v2M215.4 429.1v2M215.4 433.4v2M215.4 437.8v2M215.4 446.6v2M215.4 451.0v2M215.4 455.3v2M215.4 459.7v2M215.4 468.5v2M215.4 472.9v2M215.4 477.2v2M215.4 481.6v2M221.0 429.1v2M221.0 433.4v2M221.0 437.8v2M221.0 446.6v2M221.0 451.0v2M221.0 455.3v2M221.0 459.7v2M221.0 468.5v2M221.0 472.9v2M221.0 477.2v2M221.0 481.6v2M226.5 429.1v2M226.5 433.4v2M226.5 437.8v2M226.5 446.6v2M226.5 451.0v2M226.5 455.3v2M226.5 459.7v2M226.5 468.5v2M226.5 472.9v2M226.5 477.2v2M226.5 481.6v2M232.1 429.1v2M232.1 433.4v2M232.1 437.8v2M232.1 446.6v2M232.1 451.0v2M232.1 455.3v2M232.1 459.7v2M232.1 468.5v2M232.1 472.9v2M232.1 477.2v2M232.1 481.6v2M237.7 429.1v2M237.7 433.4v2M237.7 437.8v2M237.7 446.6v2M237.7 451.0v2M237.7 455.3v2M237.7 459.7v2M237.7 468.5v2M237.7 472.9v2M237.7 477.2v2M237.7 481.6v2M243.3 429.1v2M243.3 433.4v2M243.3 437.8v2M243.3 446.6v2M243.3 451.0v2M243.3 455.3v2M243.3 459.7v2M243.3 468.5v2M243.3 472.9v2M243.3 477.2v2M243.3 481.6v2M248.8 429.1v2M248.8 433.4v2M248.8 437.8v2M248.8 446.6v2M248.8 451.0v2M248.8 455.3v2M248.8 459.7v2M248.8 468.5v2M248.8 472.9v2M248.8 477.2v2M248.8 481.6v2M254.4 429.1v2M254.4 433.4v2M254.4 437.8v2M254.4 446.6v2M254.4 451.0v2M254.4 455.3v2M254.4 459.7v2M254.4 468.5v2M254.4 472.9v2M254.4 477.2v2M254.4 481.6v2M260.0 429.1v2M260.0 433.4v2M260.0 437.8v2M260.0 446.6v2M260.0 451.0v2M260.0 455.3v2M260.0 459.7v2M260.0 468.5v2M260.0 472.9v2M260.0 477.2v2M260.0 481.6v2M265.6 429.1v2M265.6 433.4v2M265.6 437.8v2M265.6 446.6v2M265.6 451.0v2M265.6 455.3v2M265.6 459.7v2M265.6 468.5v2M265.6 472.9v2M265.6 477.2v2M265.6 481.6v2M271.1 429.1v2M271.1 433.4v2M271.1 437.8v2M271.1 446.6v2M271.1 451.0v2M271.1 455.3v2M271.1 459.7v2M271.1 468.5v2M271.1 472.9v2M271.1 477.2v2M271.1 481.6v2M276.7 429.1v2M276.7 433.4v2M276.7 437.8v2M276.7 446.6v2M276.7 451.0v2M276.7 455.3v2M276.7 459.7v2M276.7 468.5v2M276.7 472.9v2M276.7 477.2v2M276.7 481.6v2M282.3 429.1v2M282.3 433.4v2M282.3 437.8v2M282.3 446.6v2M282.3 451.0v2M282.3 455.3v2M282.3 459.7v2M282.3 468.5v2M282.3 472.9v2M282.3 477.2v2M282.3 481.6v2M287.9 429.1v2M287.9 433.4v2M287.9 437.8v2M287.9 446.6v2M287.9 451.0v2M287.9 455.3v2M287.9 459.7v2M287.9 468.5v2M287.9 472.9v2M287.9 477.2v2M287.9 481.6v2M293.4 429.1v2M293.4 433.4v2M293.4 437.8v2M293.4 446.6v2M293.4 451.0v2M293.4 455.3v2M293.4 459.7v2M293.4 468.5v2M293.4 472.9v2M293.4 477.2v2M293.4 481.6v2M299.0 429.1v2M299.0 433.4v2M299.0 437.8v2M299.0 446.6v2M299.0 451.0v2M299.0 455.3v2M299.0 459.7v2M299.0 468.5v2M299.0 472.9v2M299.0 477.2v2M299.0 481.6v2M304.6 429.1v2M304.6 433.4v2M304.6 437.8v2M304.6 446.6v2M304.6 451.0v2M304.6 455.3v2M304.6 459.7v2M304.6 468.5v2M304.6 472.9v2M304.6 477.2v2M304.6 481.6v2M310.1 429.1v2M310.1 433.4v2M310.1 437.8v2M310.1 446.6v2M310.1 451.0v2M310.1 455.3v2M310.1 459.7v2M310.1 468.5v2M310.1 472.9v2M310.1 477.2v2M310.1 481.6v2M315.7 429.1v2M315.7 433.4v2M315.7 437.8v2M315.7 446.6v2M315.7 451.0v2M315.7 455.3v2M315.7 459.7v2M315.7 468.5v2M315.7 472.9v2M315.7 477.2v2M315.7 481.6v2M321.3 429.1v2M321.3 433.4v2M321.3 437.8v2M321.3 446.6v2M321.3 451.0v2M321.3 455.3v2M321.3 459.7v2M321.3 468.5v2M321.3 472.9v2M321.3 477.2v2M321.3 481.6v2M326.9 429.1v2M326.9 433.4v2M326.9 437.8v2M326.9 446.6v2M326.9 451.0v2M326.9 455.3v2M326.9 459.7v2M326.9 468.5v2M326.9 472.9v2M326.9 477.2v2M326.9 481.6v2M332.4 429.1v2M332.4 433.4v2M332.4 437.8v2M332.4 446.6v2M332.4 451.0v2M332.4 455.3v2M332.4 459.7v2M332.4 468.5v2M332.4 472.9v2M332.4 477.2v2M332.4 481.6v2M338.0 429.1v2M338.0 433.4v2M338.0 437.8v2M338.0 446.6v2M338.0 451.0v2M338.0 455.3v2M338.0 459.7v2M338.0 468.5v2M338.0 472.9v2M338.0 477.2v2M338.0 481.6v2M343.6 429.1v2M343.6 433.4v2M343.6 437.8v2M343.6 446.6v2M343.6 451.0v2M343.6 455.3v2M343.6 459.7v2M343.6 468.5v2M343.6 472.9v2M343.6 477.2v2M343.6 481.6v2M349.2 429.1v2M349.2 433.4v2M349.2 437.8v2M349.2 446.6v2M349.2 451.0v2M349.2 455.3v2M349.2 459.7v2M349.2 468.5v2M349.2 472.9v2M349.2 477.2v2M349.2 481.6v2" stroke="#b4b4b4" stroke-width="1.2" fill="none"/><path d="M188.96 426.9V487.0M230.67 426.9V487.0M272.38 426.9V487.0M314.09 426.9V487.0M147.25 443.20H355.8M147.25 465.10H355.8" stroke="#d5d5d5" stroke-width="1.8" fill="none"/><rect x="147.25" y="426.9" width="208.55" height="60.10" fill="none" stroke="#262626" stroke-width="1.9"/><path d="M188.96 487.0v-3.0M188.96 426.9v3.0M230.67 487.0v-3.0M230.67 426.9v3.0M272.38 487.0v-3.0M272.38 426.9v3.0M314.09 487.0v-3.0M314.09 426.9v3.0M147.25 443.20h3.0M355.8 443.20h-3.0M147.25 465.10h3.0M355.8 465.10h-3.0" stroke="#262626" stroke-width="1.9" fill="none"/><g fill="none" stroke="#0072bd" stroke-width="2.0"><circle cx="147.2" cy="486.9" r="4.05"/><circle cx="149.0" cy="486.9" r="4.05"/><circle cx="150.7" cy="486.9" r="4.05"/><circle cx="152.5" cy="486.9" r="4.05"/><circle cx="154.2" cy="486.9" r="4.05"/><circle cx="155.9" cy="486.9" r="4.05"/><circle cx="157.7" cy="486.9" r="4.05"/><circle cx="159.4" cy="486.9" r="4.05"/><circle cx="161.2" cy="486.9" r="4.05"/><circle cx="162.9" cy="486.9" r="4.05"/><circle cx="164.6" cy="486.9" r="4.05"/><circle cx="166.4" cy="486.9" r="4.05"/><circle cx="168.1" cy="486.9" r="4.05"/><circle cx="169.8" cy="486.9" r="4.05"/><circle cx="171.6" cy="486.9" r="4.05"/><circle cx="173.3" cy="486.9" r="4.05"/><circle cx="175.1" cy="486.9" r="4.05"/><circle cx="176.8" cy="486.9" r="4.05"/><circle cx="178.5" cy="486.9" r="4.05"/><circle cx="180.3" cy="486.9" r="4.05"/><circle cx="182.0" cy="486.9" r="4.05"/><circle cx="183.8" cy="486.9" r="4.05"/><circle cx="185.5" cy="486.9" r="4.05"/><circle cx="188.8" cy="474.4" r="4.05"/><circle cx="190.0" cy="477.5" r="4.05"/><circle cx="191.2" cy="480.0" r="4.05"/><circle cx="194.2" cy="486.9" r="4.05"/><circle cx="195.9" cy="486.9" r="4.05"/><circle cx="197.7" cy="486.9" r="4.05"/><circle cx="199.4" cy="486.9" r="4.05"/><circle cx="201.1" cy="486.9" r="4.05"/><circle cx="202.9" cy="486.9" r="4.05"/><circle cx="204.6" cy="486.9" r="4.05"/><circle cx="206.4" cy="486.9" r="4.05"/><circle cx="208.1" cy="486.9" r="4.05"/><circle cx="209.8" cy="486.9" r="4.05"/><circle cx="211.6" cy="486.9" r="4.05"/><circle cx="213.3" cy="486.8" r="4.05"/><circle cx="215.0" cy="485.9" r="4.05"/><circle cx="216.8" cy="485.1" r="4.05"/><circle cx="218.5" cy="484.2" r="4.05"/><circle cx="220.3" cy="483.3" r="4.05"/><circle cx="222.0" cy="483.0" r="4.05"/><circle cx="223.7" cy="483.3" r="4.05"/><circle cx="225.5" cy="482.8" r="4.05"/><circle cx="227.2" cy="481.6" r="4.05"/><circle cx="229.0" cy="480.4" r="4.05"/><circle cx="230.7" cy="478.8" r="4.05"/><circle cx="232.4" cy="477.1" r="4.05"/><circle cx="234.2" cy="474.4" r="4.05"/><circle cx="235.9" cy="470.6" r="4.05"/><circle cx="237.6" cy="465.1" r="4.05"/><circle cx="238.9" cy="453.8" r="4.05"/><circle cx="240.5" cy="450.0" r="4.05"/><circle cx="242.0" cy="443.8" r="4.05"/><circle cx="244.5" cy="427.1" r="4.05"/><circle cx="245.1" cy="446.9" r="4.05"/><circle cx="247.6" cy="444.4" r="4.05"/><circle cx="249.5" cy="445.6" r="4.05"/><circle cx="251.4" cy="450.6" r="4.05"/><circle cx="253.2" cy="453.1" r="4.05"/><circle cx="254.8" cy="462.5" r="4.05"/><circle cx="256.4" cy="465.6" r="4.05"/><circle cx="258.2" cy="469.4" r="4.05"/><circle cx="260.1" cy="472.5" r="4.05"/><circle cx="262.0" cy="475.6" r="4.05"/><circle cx="263.7" cy="477.4" r="4.05"/><circle cx="265.5" cy="478.7" r="4.05"/><circle cx="267.2" cy="479.9" r="4.05"/><circle cx="268.9" cy="480.9" r="4.05"/><circle cx="270.7" cy="481.6" r="4.05"/><circle cx="272.4" cy="482.3" r="4.05"/><circle cx="274.1" cy="483.0" r="4.05"/><circle cx="275.9" cy="483.4" r="4.05"/><circle cx="277.6" cy="483.9" r="4.05"/><circle cx="279.4" cy="484.3" r="4.05"/><circle cx="281.1" cy="484.8" r="4.05"/><circle cx="282.8" cy="485.2" r="4.05"/><circle cx="284.6" cy="485.6" r="4.05"/><circle cx="286.3" cy="485.8" r="4.05"/><circle cx="288.1" cy="486.1" r="4.05"/><circle cx="289.8" cy="486.3" r="4.05"/><circle cx="291.5" cy="486.5" r="4.05"/><circle cx="293.3" cy="486.7" r="4.05"/><circle cx="295.0" cy="486.8" r="4.05"/><circle cx="296.7" cy="486.5" r="4.05"/><circle cx="298.5" cy="486.2" r="4.05"/><circle cx="300.2" cy="485.9" r="4.05"/><circle cx="302.0" cy="485.6" r="4.05"/><circle cx="303.7" cy="484.9" r="4.05"/><circle cx="305.4" cy="484.2" r="4.05"/><circle cx="307.2" cy="483.5" r="4.05"/><circle cx="308.9" cy="482.8" r="4.05"/><circle cx="310.7" cy="482.2" r="4.05"/><circle cx="312.4" cy="481.5" r="4.05"/><circle cx="314.1" cy="480.8" r="4.05"/></g><text transform="translate(138.7,450.2) scale(1.08,1)" font-size="18.2" text-anchor="end">1000</text><text transform="translate(138.7,472.1) scale(1.08,1)" font-size="18.2" text-anchor="end">500</text><text transform="translate(138.7,494.0) scale(1.08,1)" font-size="18.2" text-anchor="end">0</text><text transform="translate(75.0,456.9) rotate(-90) scale(1.004,1)" font-size="19.5" text-anchor="middle">TERR<tspan dy="9.6" font-size="15.3">M</tspan><tspan dy="-9.6">SL</tspan></text><text transform="translate(160.4,508.8) rotate(-45) scale(1.125,1)" font-size="18.2" text-anchor="end">10/07</text><text transform="translate(202.2,508.8) rotate(-45) scale(1.125,1)" font-size="18.2" text-anchor="end">10/08</text><text transform="translate(243.9,508.8) rotate(-45) scale(1.125,1)" font-size="18.2" text-anchor="end">10/09</text><text transform="translate(285.6,508.8) rotate(-45) scale(1.125,1)" font-size="18.2" text-anchor="end">10/10</text><text transform="translate(327.3,508.8) rotate(-45) scale(1.125,1)" font-size="18.2" text-anchor="end">10/11</text><text transform="translate(369.0,508.8) rotate(-45) scale(1.125,1)" font-size="18.2" text-anchor="end">10/12</text><text transform="translate(251.7,575.3) scale(1.11,1)" font-size="20.3" text-anchor="middle">Time</text></g><g><rect x="490.4" y="426.9" width="208.40" height="60.10" fill="#fff"/><path d="M497.0 431.4v2M497.0 441.4v2M497.0 446.3v2M497.0 451.3v2M497.0 456.2v2M497.0 466.2v2M497.0 471.1v2M497.0 476.1v2M497.0 481.0v2M502.6 431.4v2M502.6 441.4v2M502.6 446.3v2M502.6 451.3v2M502.6 456.2v2M502.6 466.2v2M502.6 471.1v2M502.6 476.1v2M502.6 481.0v2M508.1 431.4v2M508.1 441.4v2M508.1 446.3v2M508.1 451.3v2M508.1 456.2v2M508.1 466.2v2M508.1 471.1v2M508.1 476.1v2M508.1 481.0v2M513.7 431.4v2M513.7 441.4v2M513.7 446.3v2M513.7 451.3v2M513.7 456.2v2M513.7 466.2v2M513.7 471.1v2M513.7 476.1v2M513.7 481.0v2M519.3 431.4v2M519.3 441.4v2M519.3 446.3v2M519.3 451.3v2M519.3 456.2v2M519.3 466.2v2M519.3 471.1v2M519.3 476.1v2M519.3 481.0v2M524.9 431.4v2M524.9 441.4v2M524.9 446.3v2M524.9 451.3v2M524.9 456.2v2M524.9 466.2v2M524.9 471.1v2M524.9 476.1v2M524.9 481.0v2M530.4 431.4v2M530.4 441.4v2M530.4 446.3v2M530.4 451.3v2M530.4 456.2v2M530.4 466.2v2M530.4 471.1v2M530.4 476.1v2M530.4 481.0v2M536.0 431.4v2M536.0 441.4v2M536.0 446.3v2M536.0 451.3v2M536.0 456.2v2M536.0 466.2v2M536.0 471.1v2M536.0 476.1v2M536.0 481.0v2M541.6 431.4v2M541.6 441.4v2M541.6 446.3v2M541.6 451.3v2M541.6 456.2v2M541.6 466.2v2M541.6 471.1v2M541.6 476.1v2M541.6 481.0v2M547.2 431.4v2M547.2 441.4v2M547.2 446.3v2M547.2 451.3v2M547.2 456.2v2M547.2 466.2v2M547.2 471.1v2M547.2 476.1v2M547.2 481.0v2M552.7 431.4v2M552.7 441.4v2M552.7 446.3v2M552.7 451.3v2M552.7 456.2v2M552.7 466.2v2M552.7 471.1v2M552.7 476.1v2M552.7 481.0v2M558.3 431.4v2M558.3 441.4v2M558.3 446.3v2M558.3 451.3v2M558.3 456.2v2M558.3 466.2v2M558.3 471.1v2M558.3 476.1v2M558.3 481.0v2M563.9 431.4v2M563.9 441.4v2M563.9 446.3v2M563.9 451.3v2M563.9 456.2v2M563.9 466.2v2M563.9 471.1v2M563.9 476.1v2M563.9 481.0v2M569.4 431.4v2M569.4 441.4v2M569.4 446.3v2M569.4 451.3v2M569.4 456.2v2M569.4 466.2v2M569.4 471.1v2M569.4 476.1v2M569.4 481.0v2M575.0 431.4v2M575.0 441.4v2M575.0 446.3v2M575.0 451.3v2M575.0 456.2v2M575.0 466.2v2M575.0 471.1v2M575.0 476.1v2M575.0 481.0v2M580.6 431.4v2M580.6 441.4v2M580.6 446.3v2M580.6 451.3v2M580.6 456.2v2M580.6 466.2v2M580.6 471.1v2M580.6 476.1v2M580.6 481.0v2M586.2 431.4v2M586.2 441.4v2M586.2 446.3v2M586.2 451.3v2M586.2 456.2v2M586.2 466.2v2M586.2 471.1v2M586.2 476.1v2M586.2 481.0v2M591.7 431.4v2M591.7 441.4v2M591.7 446.3v2M591.7 451.3v2M591.7 456.2v2M591.7 466.2v2M591.7 471.1v2M591.7 476.1v2M591.7 481.0v2M597.3 431.4v2M597.3 441.4v2M597.3 446.3v2M597.3 451.3v2M597.3 456.2v2M597.3 466.2v2M597.3 471.1v2M597.3 476.1v2M597.3 481.0v2M602.9 431.4v2M602.9 441.4v2M602.9 446.3v2M602.9 451.3v2M602.9 456.2v2M602.9 466.2v2M602.9 471.1v2M602.9 476.1v2M602.9 481.0v2M608.5 431.4v2M608.5 441.4v2M608.5 446.3v2M608.5 451.3v2M608.5 456.2v2M608.5 466.2v2M608.5 471.1v2M608.5 476.1v2M608.5 481.0v2M614.0 431.4v2M614.0 441.4v2M614.0 446.3v2M614.0 451.3v2M614.0 456.2v2M614.0 466.2v2M614.0 471.1v2M614.0 476.1v2M614.0 481.0v2M619.6 431.4v2M619.6 441.4v2M619.6 446.3v2M619.6 451.3v2M619.6 456.2v2M619.6 466.2v2M619.6 471.1v2M619.6 476.1v2M619.6 481.0v2M625.2 431.4v2M625.2 441.4v2M625.2 446.3v2M625.2 451.3v2M625.2 456.2v2M625.2 466.2v2M625.2 471.1v2M625.2 476.1v2M625.2 481.0v2M630.8 431.4v2M630.8 441.4v2M630.8 446.3v2M630.8 451.3v2M630.8 456.2v2M630.8 466.2v2M630.8 471.1v2M630.8 476.1v2M630.8 481.0v2M636.3 431.4v2M636.3 441.4v2M636.3 446.3v2M636.3 451.3v2M636.3 456.2v2M636.3 466.2v2M636.3 471.1v2M636.3 476.1v2M636.3 481.0v2M641.9 431.4v2M641.9 441.4v2M641.9 446.3v2M641.9 451.3v2M641.9 456.2v2M641.9 466.2v2M641.9 471.1v2M641.9 476.1v2M641.9 481.0v2M647.5 431.4v2M647.5 441.4v2M647.5 446.3v2M647.5 451.3v2M647.5 456.2v2M647.5 466.2v2M647.5 471.1v2M647.5 476.1v2M647.5 481.0v2M653.0 431.4v2M653.0 441.4v2M653.0 446.3v2M653.0 451.3v2M653.0 456.2v2M653.0 466.2v2M653.0 471.1v2M653.0 476.1v2M653.0 481.0v2M658.6 431.4v2M658.6 441.4v2M658.6 446.3v2M658.6 451.3v2M658.6 456.2v2M658.6 466.2v2M658.6 471.1v2M658.6 476.1v2M658.6 481.0v2M664.2 431.4v2M664.2 441.4v2M664.2 446.3v2M664.2 451.3v2M664.2 456.2v2M664.2 466.2v2M664.2 471.1v2M664.2 476.1v2M664.2 481.0v2M669.8 431.4v2M669.8 441.4v2M669.8 446.3v2M669.8 451.3v2M669.8 456.2v2M669.8 466.2v2M669.8 471.1v2M669.8 476.1v2M669.8 481.0v2M675.3 431.4v2M675.3 441.4v2M675.3 446.3v2M675.3 451.3v2M675.3 456.2v2M675.3 466.2v2M675.3 471.1v2M675.3 476.1v2M675.3 481.0v2M680.9 431.4v2M680.9 441.4v2M680.9 446.3v2M680.9 451.3v2M680.9 456.2v2M680.9 466.2v2M680.9 471.1v2M680.9 476.1v2M680.9 481.0v2M686.5 431.4v2M686.5 441.4v2M686.5 446.3v2M686.5 451.3v2M686.5 456.2v2M686.5 466.2v2M686.5 471.1v2M686.5 476.1v2M686.5 481.0v2M692.1 431.4v2M692.1 441.4v2M692.1 446.3v2M692.1 451.3v2M692.1 456.2v2M692.1 466.2v2M692.1 471.1v2M692.1 476.1v2M692.1 481.0v2" stroke="#b4b4b4" stroke-width="1.2" fill="none"/><path d="M532.08 426.9V487.0M573.76 426.9V487.0M615.44 426.9V487.0M657.12 426.9V487.0M490.4 437.40H698.8M490.4 462.20H698.8" stroke="#d5d5d5" stroke-width="1.8" fill="none"/><rect x="490.4" y="426.9" width="208.40" height="60.10" fill="none" stroke="#262626" stroke-width="1.9"/><path d="M532.08 487.0v-3.0M532.08 426.9v3.0M573.76 487.0v-3.0M573.76 426.9v3.0M615.44 487.0v-3.0M615.44 426.9v3.0M657.12 487.0v-3.0M657.12 426.9v3.0M490.4 437.40h3.0M698.8 437.40h-3.0M490.4 462.20h3.0M698.8 462.20h-3.0" stroke="#262626" stroke-width="1.9" fill="none"/><g fill="none" stroke="#0072bd" stroke-width="2.0"><circle cx="490.5" cy="486.9" r="4.05"/><circle cx="492.2" cy="486.9" r="4.05"/><circle cx="494.0" cy="486.9" r="4.05"/><circle cx="495.7" cy="486.9" r="4.05"/><circle cx="497.5" cy="486.9" r="4.05"/><circle cx="499.2" cy="486.9" r="4.05"/><circle cx="500.9" cy="486.9" r="4.05"/><circle cx="504.6" cy="482.5" r="4.05"/><circle cx="505.9" cy="480.0" r="4.05"/><circle cx="507.8" cy="475.0" r="4.05"/><circle cx="509.6" cy="470.0" r="4.05"/><circle cx="510.9" cy="468.1" r="4.05"/><circle cx="512.8" cy="462.5" r="4.05"/><circle cx="514.6" cy="453.8" r="4.05"/><circle cx="516.2" cy="446.9" r="4.05"/><circle cx="517.8" cy="450.6" r="4.05"/><circle cx="519.6" cy="450.6" r="4.05"/><circle cx="521.5" cy="460.2" r="4.05"/><circle cx="523.4" cy="471.9" r="4.05"/><circle cx="525.2" cy="478.8" r="4.05"/><circle cx="527.0" cy="486.9" r="4.05"/><circle cx="528.7" cy="486.9" r="4.05"/><circle cx="530.5" cy="486.9" r="4.05"/><circle cx="532.2" cy="486.9" r="4.05"/><circle cx="534.0" cy="486.9" r="4.05"/><circle cx="535.7" cy="486.9" r="4.05"/><circle cx="537.4" cy="486.9" r="4.05"/><circle cx="539.2" cy="486.9" r="4.05"/><circle cx="540.9" cy="486.9" r="4.05"/><circle cx="542.6" cy="486.9" r="4.05"/><circle cx="545.2" cy="481.2" r="4.05"/><circle cx="546.5" cy="476.9" r="4.05"/><circle cx="547.5" cy="471.2" r="4.05"/><circle cx="548.8" cy="466.9" r="4.05"/><circle cx="550.0" cy="461.9" r="4.05"/><circle cx="551.5" cy="456.2" r="4.05"/><circle cx="552.1" cy="440.6" r="4.05"/><circle cx="554.0" cy="438.1" r="4.05"/><circle cx="555.9" cy="436.9" r="4.05"/><circle cx="557.8" cy="437.5" r="4.05"/><circle cx="560.2" cy="443.1" r="4.05"/><circle cx="561.5" cy="450.0" r="4.05"/><circle cx="563.4" cy="460.6" r="4.05"/><circle cx="565.2" cy="470.6" r="4.05"/><circle cx="567.1" cy="478.8" r="4.05"/><circle cx="568.7" cy="486.9" r="4.05"/><circle cx="570.5" cy="486.9" r="4.05"/><circle cx="572.2" cy="486.9" r="4.05"/><circle cx="573.9" cy="486.9" r="4.05"/><circle cx="575.7" cy="486.9" r="4.05"/><circle cx="577.4" cy="486.9" r="4.05"/><circle cx="579.2" cy="486.9" r="4.05"/><circle cx="580.9" cy="486.9" r="4.05"/><circle cx="582.6" cy="486.9" r="4.05"/><circle cx="586.2" cy="482.5" r="4.05"/><circle cx="587.5" cy="476.9" r="4.05"/><circle cx="589.4" cy="466.9" r="4.05"/><circle cx="590.6" cy="462.5" r="4.05"/><circle cx="592.5" cy="453.1" r="4.05"/><circle cx="594.4" cy="448.1" r="4.05"/><circle cx="596.2" cy="445.0" r="4.05"/><circle cx="597.5" cy="446.9" r="4.05"/><circle cx="600.0" cy="455.0" r="4.05"/><circle cx="601.9" cy="463.8" r="4.05"/><circle cx="603.1" cy="466.2" r="4.05"/><circle cx="604.8" cy="471.9" r="4.05"/><circle cx="606.2" cy="476.2" r="4.05"/><circle cx="608.1" cy="481.2" r="4.05"/><circle cx="610.4" cy="486.9" r="4.05"/><circle cx="612.2" cy="486.9" r="4.05"/><circle cx="613.9" cy="486.9" r="4.05"/><circle cx="615.7" cy="486.9" r="4.05"/><circle cx="617.4" cy="486.9" r="4.05"/><circle cx="619.1" cy="486.9" r="4.05"/><circle cx="620.9" cy="486.9" r="4.05"/><circle cx="622.6" cy="486.9" r="4.05"/><circle cx="624.4" cy="486.9" r="4.05"/><circle cx="626.1" cy="486.9" r="4.05"/><circle cx="627.5" cy="470.0" r="4.05"/><circle cx="629.0" cy="453.8" r="4.05"/><circle cx="630.6" cy="437.5" r="4.05"/><circle cx="632.5" cy="434.4" r="4.05"/><circle cx="634.4" cy="431.9" r="4.05"/><circle cx="636.2" cy="426.9" r="4.05"/><circle cx="638.1" cy="431.9" r="4.05"/><circle cx="639.8" cy="441.2" r="4.05"/><circle cx="641.2" cy="453.1" r="4.05"/><circle cx="643.1" cy="456.2" r="4.05"/><circle cx="644.4" cy="462.5" r="4.05"/><circle cx="645.6" cy="466.9" r="4.05"/><circle cx="646.9" cy="470.6" r="4.05"/><circle cx="648.1" cy="474.4" r="4.05"/><circle cx="649.4" cy="478.1" r="4.05"/><circle cx="650.6" cy="481.9" r="4.05"/><circle cx="652.2" cy="486.9" r="4.05"/><circle cx="653.9" cy="486.9" r="4.05"/><circle cx="655.6" cy="486.9" r="4.05"/><circle cx="657.4" cy="486.9" r="4.05"/></g><text transform="translate(481.8,444.4) scale(1.08,1)" font-size="18.2" text-anchor="end">200</text><text transform="translate(481.8,469.2) scale(1.08,1)" font-size="18.2" text-anchor="end">100</text><text transform="translate(481.8,494.0) scale(1.08,1)" font-size="18.2" text-anchor="end">0</text><text transform="translate(399.3,456.9) rotate(-90) scale(1.067,1)" font-size="19.5" text-anchor="middle">SUN<tspan dy="9.6" font-size="15.3">F</tspan><tspan dy="-9.6">LUX</tspan></text><text transform="translate(503.6,508.8) rotate(-45) scale(1.125,1)" font-size="18.2" text-anchor="end">10/07</text><text transform="translate(545.3,508.8) rotate(-45) scale(1.125,1)" font-size="18.2" text-anchor="end">10/08</text><text transform="translate(587.0,508.8) rotate(-45) scale(1.125,1)" font-size="18.2" text-anchor="end">10/09</text><text transform="translate(628.6,508.8) rotate(-45) scale(1.125,1)" font-size="18.2" text-anchor="end">10/10</text><text transform="translate(670.3,508.8) rotate(-45) scale(1.125,1)" font-size="18.2" text-anchor="end">10/11</text><text transform="translate(712.0,508.8) rotate(-45) scale(1.125,1)" font-size="18.2" text-anchor="end">10/12</text><text transform="translate(594.8,575.3) scale(1.11,1)" font-size="20.3" text-anchor="middle">Time</text></g><text transform="translate(251.2,31.4) scale(1.065,1)" font-size="21" font-weight="bold" text-anchor="middle" fill="#000" stroke="none">Figure 2 low</text></svg>
</body></html>
